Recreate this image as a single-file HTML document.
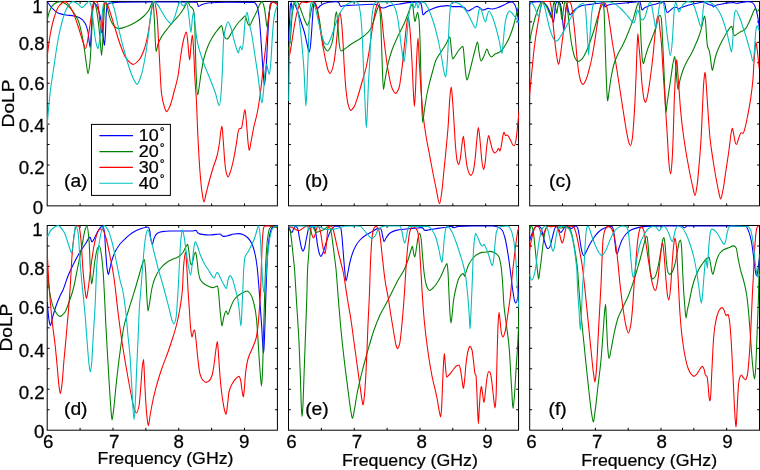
<!DOCTYPE html>
<html><head><meta charset="utf-8"><title>DoLP vs Frequency</title>
<style>
html,body{margin:0;padding:0;background:#fff;}
svg{display:block;}
text{font-family:"Liberation Sans",sans-serif;fill:#000;stroke:#000;stroke-width:0.25px;}
.ax{fill:none;stroke:#000;stroke-width:1;}
.tk{stroke:#000;stroke-width:1;fill:none;}
.cv{fill:none;stroke-width:1.08;stroke-linejoin:round;stroke-linecap:butt;}
</style></head><body>
<svg width="760" height="470" viewBox="0 0 760 470">
<rect width="760" height="470" fill="#fff"/>
<defs>
<clipPath id="cpa"><rect x="46.7" y="0.85" width="231.2" height="205.6"/></clipPath>
<clipPath id="cpb"><rect x="288" y="0.85" width="231.05" height="205.6"/></clipPath>
<clipPath id="cpc"><rect x="529.2" y="0.85" width="230.8" height="205.6"/></clipPath>
<clipPath id="cpd"><rect x="46.7" y="224.9" width="231.2" height="205.9"/></clipPath>
<clipPath id="cpe"><rect x="288" y="224.9" width="231.05" height="205.9"/></clipPath>
<clipPath id="cpf"><rect x="529.2" y="224.9" width="230.8" height="205.9"/></clipPath>
</defs>
<g id="panel-a">
<rect class="ax" x="47.2" y="1.45" width="230.2" height="204.4"/>
<path class="tk" d="M80.09 205.85v-2.4M80.09 1.45v2.4M112.97 205.85v-2.4M112.97 1.45v2.4M145.86 205.85v-2.4M145.86 1.45v2.4M178.74 205.85v-2.4M178.74 1.45v2.4M211.63 205.85v-2.4M211.63 1.45v2.4M244.51 205.85v-2.4M244.51 1.45v2.4M47.2 21.89h2.4M277.4 21.89h-2.4M47.2 42.33h2.4M277.4 42.33h-2.4M47.2 62.77h2.4M277.4 62.77h-2.4M47.2 83.21h2.4M277.4 83.21h-2.4M47.2 103.65h2.4M277.4 103.65h-2.4M47.2 124.09h2.4M277.4 124.09h-2.4M47.2 144.53h2.4M277.4 144.53h-2.4M47.2 164.97h2.4M277.4 164.97h-2.4M47.2 185.41h2.4M277.4 185.41h-2.4"/>
<g clip-path="url(#cpa)">
<path class="cv" stroke="#0000ff" d="M47.2 1.5C48.8 4.0 50.4 6.3 52.0 8.0C54.0 10.1 56.0 12.2 58.0 13.0C60.7 14.1 63.3 14.6 66.0 15.0C68.7 15.4 71.3 15.5 74.0 16.0C76.0 16.4 78.0 17.0 80.0 18.0C81.7 18.8 83.3 20.4 85.0 23.0C86.0 24.6 87.0 27.7 88.0 32.0C88.7 35.2 89.5 47.5 90.2 47.5C90.6 47.5 91.1 34.3 91.5 28.0C92.0 20.8 92.5 9.0 93.0 7.0C93.5 5.0 94.0 3.5 94.5 3.5C94.8 3.5 95.2 3.8 95.5 4.0C96.8 4.9 98.0 8.7 99.3 12.8C100.2 15.6 101.0 20.0 101.9 25.5C102.5 29.5 103.2 37.7 103.8 42.0C104.0 43.3 104.2 45.5 104.4 45.5C104.8 45.5 105.1 38.1 105.5 32.0C105.8 27.6 106.0 15.6 106.3 12.8C106.7 8.2 107.2 4.9 107.6 4.5C109.1 3.2 110.5 3.0 112.0 2.8C114.7 2.4 117.3 2.2 120.0 2.2C130.0 2.1 140.0 2.0 150.0 2.0C165.7 2.0 181.3 2.0 197.0 2.2C197.5 2.2 197.9 6.4 198.4 6.4C199.6 6.4 200.8 4.8 202.0 4.4C204.7 3.6 207.3 3.0 210.0 2.8C215.0 2.4 220.0 2.2 225.0 2.2C234.7 2.2 244.3 2.2 254.0 2.4C255.0 2.4 256.0 4.0 257.0 6.0C257.7 7.3 258.3 11.3 259.0 16.0C259.7 20.7 260.3 31.1 261.0 40.0C261.7 48.9 262.3 61.7 263.0 70.0C263.5 75.8 263.9 85.0 264.4 85.0C264.9 85.0 265.5 76.7 266.0 70.0C266.5 63.3 267.1 49.5 267.6 40.0C268.1 31.7 268.5 21.3 269.0 16.0C269.5 10.7 269.9 4.9 270.4 4.0C270.9 2.9 271.5 2.2 272.0 2.2C273.9 2.2 275.7 2.2 277.6 2.2"/>
<path class="cv" stroke="#008000" d="M47.2 20.0C48.1 15.9 49.1 12.0 50.0 10.0C51.3 7.1 52.7 4.9 54.0 4.0C56.0 2.7 58.0 1.6 60.0 1.6C61.7 1.6 63.3 2.6 65.0 3.5C66.7 4.4 68.3 6.2 70.0 8.0C72.7 10.9 75.3 14.0 78.0 20.0C79.7 23.8 81.3 31.3 83.0 40.0C84.1 45.9 85.3 56.7 86.4 64.0C86.9 67.4 87.5 73.6 88.0 73.6C88.7 73.6 89.3 67.9 90.0 62.0C90.6 57.0 91.1 42.7 91.7 32.0C92.1 24.4 92.5 10.6 92.9 7.7C93.3 4.5 93.8 2.0 94.2 2.0C94.8 2.0 95.5 5.1 96.1 7.7C96.7 10.3 97.4 15.2 98.0 20.0C98.7 25.0 99.3 31.4 100.0 38.0C100.5 43.3 101.1 55.5 101.6 55.5C102.0 55.5 102.5 45.2 102.9 38.0C103.2 33.0 103.5 24.4 103.8 19.0C104.1 13.6 104.4 6.8 104.7 5.0C105.0 3.4 105.2 2.0 105.5 2.0C106.2 2.0 106.9 6.5 107.6 9.0C108.2 11.3 108.9 14.6 109.5 16.6C110.3 19.2 111.2 21.5 112.0 23.0C113.0 24.8 114.0 26.4 115.0 27.0C116.3 27.8 117.7 28.6 119.0 28.6C122.0 28.6 125.0 27.1 128.0 26.0C130.7 25.0 133.3 23.6 136.0 22.0C138.7 20.4 141.3 18.5 144.0 16.0C145.7 14.4 147.3 12.7 149.0 10.0C150.0 8.4 151.0 4.7 152.0 3.0C152.3 2.4 152.7 1.6 153.0 1.6C153.5 1.6 153.9 12.7 154.4 20.0C154.9 28.4 155.5 51.6 156.0 51.6C156.7 51.6 157.3 45.8 158.0 44.0C159.3 40.4 160.7 38.2 162.0 36.0C164.0 32.8 166.0 30.5 168.0 28.0C170.0 25.5 172.0 23.3 174.0 21.0C176.0 18.7 178.0 16.6 180.0 14.0C181.3 12.2 182.7 10.2 184.0 8.0C185.0 6.3 186.0 3.2 187.0 2.5C187.3 2.3 187.7 2.0 188.0 2.0C188.7 2.0 189.3 5.1 190.0 6.0C191.0 7.4 192.0 7.2 193.0 9.0C193.5 9.8 193.9 11.7 194.4 16.0C194.7 18.4 194.9 31.1 195.2 40.0C195.5 48.9 195.7 63.8 196.0 70.0C196.5 82.3 197.1 95.0 197.6 95.0C198.1 95.0 198.5 90.7 199.0 88.0C199.7 84.1 200.3 78.1 201.0 74.0C202.0 67.9 203.0 61.9 204.0 58.0C205.3 52.8 206.7 49.2 208.0 46.0C209.3 42.8 210.7 40.3 212.0 38.0C213.3 35.7 214.7 33.8 216.0 32.0C217.3 30.2 218.7 28.3 220.0 27.0C220.5 26.5 221.1 25.6 221.6 25.6C222.4 25.6 223.2 34.7 224.0 36.0C225.0 37.7 226.0 39.0 227.0 39.0C228.7 39.0 230.3 34.4 232.0 32.0C234.0 29.1 236.0 25.4 238.0 23.0C239.7 21.0 241.3 19.7 243.0 18.0C243.7 17.3 244.3 16.0 245.0 16.0C246.0 16.0 247.0 22.5 248.0 24.0C248.5 24.7 248.9 25.6 249.4 25.6C250.6 25.6 251.8 21.3 253.0 19.0C254.3 16.5 255.7 13.9 257.0 11.0C258.0 8.8 259.0 5.6 260.0 4.0C260.7 3.0 261.3 1.6 262.0 1.6C262.8 1.6 263.6 4.7 264.4 8.0C264.9 10.2 265.5 16.1 266.0 20.0C266.3 22.4 266.7 27.0 267.0 27.0C267.5 27.0 267.9 21.0 268.4 18.0C268.9 14.6 269.5 10.1 270.0 8.0C270.7 5.4 271.3 2.5 272.0 2.4C273.9 2.1 275.7 2.0 277.6 2.0"/>
<path class="cv" stroke="#ff0000" d="M47.2 57.0C48.1 48.8 49.1 41.3 50.0 36.0C51.3 28.4 52.7 22.2 54.0 18.0C55.7 12.7 57.3 7.9 59.0 6.0C61.0 3.7 63.0 1.6 65.0 1.6C67.3 1.6 69.7 6.1 72.0 10.0C74.0 13.3 76.0 20.2 78.0 26.0C79.7 30.9 81.3 37.3 83.0 42.0C83.8 44.4 84.7 48.5 85.5 48.5C86.7 48.5 87.8 38.7 89.0 32.0C89.9 26.9 90.8 18.3 91.7 12.8C92.3 8.9 93.0 3.1 93.6 2.5C94.2 1.9 94.9 1.5 95.5 1.5C96.1 1.5 96.8 1.9 97.4 2.5C97.8 2.9 98.3 6.8 98.7 10.0C99.1 13.2 99.6 19.4 100.0 23.0C100.5 26.9 100.9 33.0 101.4 33.0C101.8 33.0 102.1 28.9 102.5 25.0C102.7 22.5 103.0 15.5 103.2 12.8C103.6 8.2 104.0 3.6 104.4 3.0C104.8 2.4 105.1 2.0 105.5 2.0C106.2 2.0 106.9 3.7 107.6 5.0C108.4 6.5 109.2 9.6 110.0 12.0C111.7 17.1 113.3 22.7 115.0 28.0C116.7 33.3 118.3 39.5 120.0 44.0C122.0 49.4 124.0 55.3 126.0 58.0C128.3 61.1 130.7 64.4 133.0 64.4C135.0 64.4 137.0 62.2 139.0 60.0C140.7 58.2 142.3 54.5 144.0 50.0C145.3 46.4 146.7 40.7 148.0 34.0C149.0 28.9 150.0 20.0 151.0 14.0C151.7 10.0 152.3 4.1 153.0 3.0C153.5 2.2 153.9 1.6 154.4 1.6C155.3 1.6 156.1 8.6 157.0 16.0C157.7 21.7 158.3 38.7 159.0 50.0C159.9 64.7 160.7 87.6 161.6 94.0C162.5 100.8 163.5 104.2 164.4 107.0C165.1 109.0 165.7 111.6 166.4 111.6C167.6 111.6 168.8 108.6 170.0 106.0C171.3 103.1 172.7 97.0 174.0 92.0C175.3 87.0 176.7 83.0 178.0 76.0C179.0 70.8 180.0 60.2 181.0 54.0C182.0 47.8 183.0 41.4 184.0 38.0C184.8 35.3 185.6 32.0 186.4 32.0C186.9 32.0 187.5 39.4 188.0 44.0C188.5 48.6 189.1 60.0 189.6 60.0C190.1 60.0 190.5 50.1 191.0 46.0C191.5 41.9 191.9 35.0 192.4 35.0C192.8 35.0 193.2 43.7 193.6 50.0C194.1 57.3 194.5 72.0 195.0 80.0C195.5 88.0 195.9 91.5 196.4 100.0C196.8 107.3 197.2 121.6 197.6 130.0C198.4 146.8 199.2 161.9 200.0 172.0C200.7 180.4 201.3 187.6 202.0 192.0C202.7 196.4 203.3 202.0 204.0 202.0C204.7 202.0 205.3 196.7 206.0 194.0C207.0 190.0 208.0 185.7 209.0 182.0C210.3 177.0 211.7 172.3 213.0 168.0C214.3 163.7 215.7 161.2 217.0 156.0C217.9 152.6 218.7 147.9 219.6 142.0C220.1 138.8 220.5 132.3 221.0 130.0C221.3 128.3 221.7 126.4 222.0 126.4C222.4 126.4 222.8 135.1 223.2 140.0C223.8 147.3 224.4 158.9 225.0 164.0C225.5 168.5 226.1 172.3 226.6 174.0C227.1 175.5 227.5 177.0 228.0 177.0C228.7 177.0 229.3 174.7 230.0 173.0C231.0 170.5 232.0 166.3 233.0 162.0C234.0 157.7 235.0 151.5 236.0 146.0C237.0 140.5 238.0 129.7 239.0 129.0C239.8 128.4 240.7 128.7 241.5 128.0C242.0 127.6 242.5 122.6 243.0 120.0C243.7 116.5 244.3 109.6 245.0 109.6C245.5 109.6 245.9 117.2 246.4 122.0C246.9 127.5 247.5 137.3 248.0 142.0C248.4 145.5 248.8 150.4 249.2 150.4C249.8 150.4 250.4 145.0 251.0 142.0C252.0 137.0 253.0 130.6 254.0 126.0C255.0 121.4 256.0 118.8 257.0 114.0C258.0 109.2 259.0 103.1 260.0 96.0C261.0 88.9 262.0 78.7 263.0 70.0C264.0 61.3 265.0 53.3 266.0 44.0C266.7 37.8 267.3 29.9 268.0 24.0C268.7 18.1 269.3 11.4 270.0 8.0C270.5 5.3 271.1 2.0 271.6 2.0C272.7 2.0 273.9 2.5 275.0 3.0C275.9 3.4 276.7 4.2 277.6 5.0"/>
<path class="cv" stroke="#00bfbf" d="M47.2 125.0C48.1 113.1 49.1 102.1 50.0 94.0C51.3 82.4 52.7 75.0 54.0 66.0C55.3 57.0 56.7 47.1 58.0 40.0C59.3 32.9 60.7 26.8 62.0 22.0C63.3 17.2 64.7 12.8 66.0 10.0C67.3 7.2 68.7 4.8 70.0 3.6C71.0 2.7 72.0 1.6 73.0 1.6C74.7 1.6 76.3 2.9 78.0 4.0C79.3 4.8 80.7 7.6 82.0 7.6C83.3 7.6 84.7 5.2 86.0 4.0C87.0 3.1 88.0 1.5 89.0 1.5C89.7 1.5 90.3 3.1 91.0 5.0C91.7 6.9 92.3 13.8 93.0 19.0C93.6 24.0 94.3 31.8 94.9 36.0C95.5 40.2 96.2 44.0 96.8 46.0C97.2 47.3 97.6 48.8 98.0 48.8C98.4 48.8 98.9 44.8 99.3 42.0C99.9 37.9 100.6 31.5 101.2 25.5C101.8 20.1 102.3 11.1 102.9 7.7C103.3 5.1 103.8 2.1 104.2 2.0C105.5 1.8 106.7 1.8 108.0 1.8C109.2 1.8 110.3 2.1 111.5 2.5C112.3 2.8 113.2 5.6 114.0 8.0C115.3 11.8 116.7 20.3 118.0 26.0C120.0 34.5 122.0 42.7 124.0 50.0C126.0 57.3 128.0 64.3 130.0 70.0C131.3 73.8 132.7 77.6 134.0 80.0C135.0 81.8 136.0 84.4 137.0 84.4C138.3 84.4 139.7 79.8 141.0 76.0C142.3 72.2 143.7 65.3 145.0 58.0C146.3 50.7 147.7 40.3 149.0 30.0C149.9 23.3 150.7 11.9 151.6 8.0C152.3 5.0 152.9 1.6 153.6 1.6C154.7 1.6 155.9 2.9 157.0 4.0C158.7 5.6 160.3 9.3 162.0 12.0C163.7 14.7 165.3 18.1 167.0 20.0C168.3 21.5 169.7 23.6 171.0 23.6C172.3 23.6 173.7 19.3 175.0 16.0C176.0 13.5 177.0 8.6 178.0 6.0C178.7 4.3 179.3 1.6 180.0 1.6C180.8 1.6 181.6 4.3 182.4 5.0C182.9 5.5 183.5 6.0 184.0 6.0C184.8 6.0 185.6 2.0 186.4 2.0C187.1 2.0 187.7 7.7 188.4 12.0C188.9 15.4 189.5 22.1 190.0 26.0C190.3 28.4 190.7 32.4 191.0 32.4C191.5 32.4 191.9 21.0 192.4 18.0C192.8 15.5 193.2 12.4 193.6 12.4C194.1 12.4 194.5 20.2 195.0 24.0C195.7 29.4 196.3 36.4 197.0 40.0C198.0 45.5 199.0 48.5 200.0 52.0C201.3 56.6 202.7 60.4 204.0 64.0C205.3 67.6 206.7 70.7 208.0 74.0C209.3 77.3 210.7 80.5 212.0 84.0C213.3 87.5 214.7 90.6 216.0 95.0C216.7 97.2 217.3 101.3 218.0 103.0C218.5 104.2 218.9 105.6 219.4 105.6C219.9 105.6 220.5 99.5 221.0 94.0C221.5 89.2 221.9 79.5 222.4 70.0C222.8 61.8 223.2 44.1 223.6 40.0C224.3 33.2 224.9 30.4 225.6 28.0C226.4 25.1 227.2 22.0 228.0 22.0C229.0 22.0 230.0 25.3 231.0 28.0C232.0 30.7 233.0 36.4 234.0 40.0C235.0 43.6 236.0 47.5 237.0 50.0C237.5 51.2 237.9 53.0 238.4 53.0C238.8 53.0 239.2 48.9 239.6 48.0C239.9 47.2 240.3 46.4 240.6 46.4C241.1 46.4 241.5 50.0 242.0 50.0C242.5 50.0 243.1 44.5 243.6 40.0C244.1 36.0 244.5 25.4 245.0 22.0C245.7 17.2 246.3 12.4 247.0 12.4C247.7 12.4 248.3 18.8 249.0 22.0C250.0 26.7 251.0 30.5 252.0 36.0C253.0 41.5 254.0 49.3 255.0 56.0C256.0 62.7 257.0 68.7 258.0 76.0C258.7 80.9 259.3 87.7 260.0 92.0C260.7 96.3 261.3 103.0 262.0 103.0C262.5 103.0 263.1 95.3 263.6 90.0C264.1 85.3 264.5 75.3 265.0 72.0C265.5 68.3 266.1 64.4 266.6 64.4C267.1 64.4 267.5 68.4 268.0 70.0C268.5 71.6 268.9 74.4 269.4 74.4C269.9 74.4 270.5 66.3 271.0 60.0C271.5 54.5 271.9 42.4 272.4 36.0C272.9 28.7 273.5 21.5 274.0 18.0C274.7 13.6 275.3 10.7 276.0 9.0C276.5 7.6 277.1 6.4 277.6 6.0"/>
</g>
</g>
<g id="panel-b">
<rect class="ax" x="288.5" y="1.45" width="230.05" height="204.4"/>
<path class="tk" d="M321.36 205.85v-2.4M321.36 1.45v2.4M354.23 205.85v-2.4M354.23 1.45v2.4M387.09 205.85v-2.4M387.09 1.45v2.4M419.96 205.85v-2.4M419.96 1.45v2.4M452.82 205.85v-2.4M452.82 1.45v2.4M485.69 205.85v-2.4M485.69 1.45v2.4M288.5 21.89h2.4M518.55 21.89h-2.4M288.5 42.33h2.4M518.55 42.33h-2.4M288.5 62.77h2.4M518.55 62.77h-2.4M288.5 83.21h2.4M518.55 83.21h-2.4M288.5 103.65h2.4M518.55 103.65h-2.4M288.5 124.09h2.4M518.55 124.09h-2.4M288.5 144.53h2.4M518.55 144.53h-2.4M288.5 164.97h2.4M518.55 164.97h-2.4M288.5 185.41h2.4M518.55 185.41h-2.4"/>
<g clip-path="url(#cpb)">
<path class="cv" stroke="#0000ff" d="M288.7 41.0C289.0 33.3 289.3 26.2 289.6 20.0C289.9 14.5 290.1 6.4 290.4 5.0C290.7 3.6 290.9 2.5 291.2 2.5C291.4 2.5 291.7 6.4 291.9 8.0C292.1 9.3 292.3 11.5 292.5 11.5C292.7 11.5 292.9 8.3 293.1 7.0C293.3 5.4 293.6 2.8 293.8 2.8C294.4 2.8 295.1 5.0 295.7 6.4C296.5 8.2 297.4 10.4 298.2 12.8C299.3 15.8 300.3 19.6 301.4 23.0C302.5 26.4 303.5 29.0 304.6 33.0C305.5 36.2 306.3 41.2 307.2 44.7C307.9 47.4 308.5 52.0 309.2 52.0C309.6 52.0 309.9 49.4 310.3 47.0C310.7 44.2 311.2 37.6 311.6 32.0C312.0 26.4 312.5 17.8 312.9 12.8C313.2 9.3 313.5 4.3 313.8 4.0C314.1 3.7 314.3 3.5 314.6 3.5C315.1 3.5 315.5 5.7 316.0 6.5C316.5 7.3 316.9 8.5 317.4 8.5C318.3 8.5 319.1 6.7 320.0 6.0C321.3 5.0 322.7 4.0 324.0 3.5C325.7 2.9 327.3 2.4 329.0 2.2C331.3 2.0 333.7 1.8 336.0 1.8C336.8 1.8 337.7 1.9 338.5 2.2C339.0 2.4 339.5 4.8 340.0 5.5C340.3 5.9 340.7 6.5 341.0 6.5C341.7 6.5 342.3 5.9 343.0 5.8C344.7 5.6 346.3 5.5 348.0 5.4C352.7 5.1 357.3 5.0 362.0 4.8C366.0 4.6 370.0 4.2 374.0 4.2C375.3 4.2 376.7 4.5 378.0 5.0C378.7 5.2 379.3 6.7 380.0 7.0C381.0 7.5 382.0 8.0 383.0 8.0C385.3 8.0 387.7 6.1 390.0 5.6C394.0 4.7 398.0 4.2 402.0 3.6C404.7 3.2 407.3 2.6 410.0 2.4C412.7 2.2 415.3 2.0 418.0 2.0C418.8 2.0 419.7 2.1 420.5 2.5C420.9 2.7 421.2 4.5 421.6 6.0C422.1 8.0 422.5 15.0 423.0 15.0C424.0 15.0 425.0 12.7 426.0 12.0C428.0 10.6 430.0 9.8 432.0 9.0C434.7 7.9 437.3 6.8 440.0 6.4C442.7 6.0 445.3 5.6 448.0 5.6C449.3 5.6 450.7 6.6 452.0 6.6C454.7 6.6 457.3 6.6 460.0 6.6C461.3 6.6 462.7 7.1 464.0 7.6C465.3 8.1 466.7 11.0 468.0 11.0C469.3 11.0 470.7 9.7 472.0 9.0C473.7 8.2 475.3 6.4 477.0 6.4C478.0 6.4 479.0 7.4 480.0 8.0C481.0 8.6 482.0 10.0 483.0 10.0C484.7 10.0 486.3 8.4 488.0 8.4C489.3 8.4 490.7 9.0 492.0 9.0C494.0 9.0 496.0 8.2 498.0 7.6C500.0 7.0 502.0 5.9 504.0 5.0C505.7 4.2 507.3 2.7 509.0 2.4C510.0 2.2 511.0 2.0 512.0 2.0C513.0 2.0 514.0 3.4 515.0 5.0C515.7 6.1 516.3 9.0 517.0 12.0C517.7 15.3 518.5 20.2 519.2 26.0"/>
<path class="cv" stroke="#008000" d="M288.7 50.0C289.0 48.0 289.3 46.0 289.6 44.0C289.9 42.0 290.2 40.7 290.5 38.0C290.9 34.1 291.4 23.7 291.8 19.0C292.2 14.3 292.7 9.6 293.1 7.7C293.7 5.0 294.4 3.0 295.0 2.5C295.7 1.9 296.3 1.5 297.0 1.5C298.0 1.5 299.1 5.3 300.1 7.7C301.2 10.2 302.2 13.8 303.3 16.6C304.2 18.9 305.0 21.3 305.9 23.0C306.4 24.0 306.9 25.5 307.4 25.5C308.0 25.5 308.5 23.5 309.1 21.7C309.7 19.7 310.4 14.4 311.0 11.5C311.6 8.6 312.3 5.1 312.9 3.8C313.3 2.9 313.8 2.0 314.2 2.0C315.0 2.0 315.9 4.3 316.7 6.4C317.6 8.6 318.4 14.1 319.3 19.0C320.1 23.7 321.0 31.4 321.8 35.8C322.7 40.4 323.5 45.3 324.4 47.0C325.5 49.1 326.5 51.0 327.6 51.0C328.4 51.0 329.2 49.4 330.0 48.0C330.8 46.6 331.7 44.5 332.5 41.0C333.2 38.2 333.8 31.0 334.5 25.0C334.8 22.0 335.2 16.6 335.5 15.0C335.8 13.4 336.2 11.8 336.5 11.8C336.8 11.8 337.2 16.5 337.5 20.0C337.8 23.5 338.2 30.8 338.5 35.0C338.8 39.2 339.2 44.2 339.5 46.0C340.0 48.7 340.5 51.0 341.0 51.0C342.0 51.0 343.0 50.1 344.0 49.5C346.0 48.3 348.0 46.4 350.0 45.0C352.7 43.2 355.3 41.7 358.0 40.0C360.0 38.7 362.0 37.6 364.0 36.0C366.0 34.4 368.0 32.9 370.0 30.0C371.3 28.0 372.7 23.8 374.0 20.0C375.0 17.1 376.0 12.5 377.0 10.0C377.7 8.4 378.3 6.0 379.0 6.0C379.5 6.0 379.9 10.7 380.4 16.0C380.7 19.8 381.1 31.1 381.4 40.0C381.7 48.9 382.1 62.1 382.4 70.0C382.7 77.9 383.1 89.5 383.4 89.5C383.9 89.5 384.5 83.0 385.0 80.0C386.0 74.4 387.0 68.3 388.0 64.0C389.3 58.3 390.7 53.8 392.0 50.0C394.0 44.3 396.0 40.3 398.0 36.0C400.0 31.7 402.0 28.5 404.0 24.0C405.3 21.0 406.7 17.4 408.0 14.0C409.0 11.4 410.0 7.5 411.0 6.0C411.5 5.3 411.9 4.4 412.4 4.4C412.9 4.4 413.5 12.7 414.0 16.0C414.3 18.1 414.7 21.6 415.0 21.6C415.5 21.6 415.9 17.6 416.4 16.0C416.8 14.6 417.2 12.4 417.6 12.4C418.1 12.4 418.5 15.9 419.0 20.0C419.3 22.9 419.7 31.2 420.0 40.0C420.3 47.0 420.5 60.0 420.8 70.0C421.1 80.0 421.3 92.5 421.6 100.0C421.9 109.4 422.3 122.4 422.6 122.4C423.2 122.4 423.8 113.9 424.4 110.0C425.3 104.3 426.1 98.4 427.0 94.0C428.0 88.9 429.0 85.0 430.0 81.0C431.0 77.0 432.0 73.5 433.0 70.0C434.0 66.5 435.0 62.2 436.0 60.0C437.7 56.3 439.3 54.7 441.0 52.0C442.7 49.3 444.3 47.0 446.0 44.0C447.0 42.2 448.0 39.3 449.0 38.0C449.3 37.6 449.7 37.0 450.0 37.0C450.3 37.0 450.7 43.1 451.0 46.0C451.5 50.6 452.1 59.0 452.6 59.0C453.4 59.0 454.2 57.1 455.0 56.0C456.3 54.2 457.7 51.5 459.0 50.0C460.3 48.5 461.7 46.4 463.0 46.4C463.5 46.4 463.9 55.4 464.4 60.0C464.9 65.3 465.5 73.0 466.0 76.0C466.3 77.8 466.7 80.0 467.0 80.0C467.7 80.0 468.3 76.3 469.0 74.0C470.0 70.6 471.0 66.0 472.0 62.0C473.0 58.0 474.0 53.5 475.0 50.0C475.9 47.0 476.7 42.0 477.6 42.0C478.1 42.0 478.5 49.4 479.0 52.0C479.7 55.7 480.3 61.0 481.0 61.0C482.0 61.0 483.0 57.9 484.0 56.0C485.0 54.1 486.0 49.0 487.0 49.0C487.7 49.0 488.3 52.9 489.0 54.0C489.9 55.4 490.7 57.0 491.6 57.0C492.7 57.0 493.9 54.6 495.0 54.0C496.3 53.3 497.7 53.1 499.0 52.4C500.0 51.9 501.0 51.0 502.0 50.0C503.3 48.6 504.7 46.3 506.0 44.0C507.3 41.7 508.7 39.2 510.0 36.0C511.3 32.8 512.7 28.6 514.0 24.0C515.0 20.5 516.0 15.8 517.0 12.0C517.7 9.2 518.5 6.6 519.2 4.0"/>
<path class="cv" stroke="#ff0000" d="M288.7 57.0C288.9 56.8 289.1 56.5 289.3 56.0C290.1 54.1 291.0 47.0 291.8 42.0C292.7 36.8 293.5 30.4 294.4 25.5C295.2 20.8 296.1 15.9 296.9 12.8C297.8 9.5 298.6 6.5 299.5 5.0C300.3 3.6 301.2 2.0 302.0 2.0C303.5 2.0 305.0 2.6 306.5 2.6C308.0 2.6 309.5 1.5 311.0 1.5C312.3 1.5 313.5 1.8 314.8 2.5C315.4 2.8 316.1 5.4 316.7 7.7C317.4 10.2 318.0 14.9 318.7 19.0C319.5 24.1 320.4 30.6 321.2 35.8C322.1 41.2 322.9 46.3 323.8 51.0C324.5 54.9 325.3 58.7 326.0 62.0C326.7 65.0 327.3 68.3 328.0 70.0C328.7 71.7 329.3 73.6 330.0 73.6C330.7 73.6 331.3 71.7 332.0 70.0C332.7 68.3 333.3 65.5 334.0 62.0C334.7 58.5 335.3 53.1 336.0 47.0C336.5 42.4 337.0 35.1 337.5 30.0C338.0 24.9 338.5 18.2 339.0 16.0C339.3 14.5 339.7 13.0 340.0 13.0C340.5 13.0 341.0 17.9 341.5 22.0C342.0 26.1 342.5 33.9 343.0 42.0C343.3 47.4 343.7 56.4 344.0 62.0C344.7 73.2 345.3 83.8 346.0 90.0C346.7 96.2 347.3 101.5 348.0 104.0C348.9 107.2 349.7 110.4 350.6 110.4C351.7 110.4 352.9 108.6 354.0 107.0C355.3 105.1 356.7 100.1 358.0 96.0C359.3 91.9 360.7 86.7 362.0 82.0C363.3 77.3 364.7 73.7 366.0 68.0C367.0 63.7 368.0 58.0 369.0 52.0C370.3 44.0 371.7 32.0 373.0 24.0C374.0 18.0 375.0 11.6 376.0 8.0C376.7 5.4 377.5 2.0 378.2 2.0C379.1 2.0 380.1 7.2 381.0 12.0C382.0 17.1 383.0 31.6 384.0 40.0C385.3 51.1 386.7 62.5 388.0 70.0C389.3 77.5 390.7 85.0 392.0 88.0C393.2 90.7 394.3 93.4 395.5 93.4C396.7 93.4 397.8 91.0 399.0 88.0C400.0 85.5 401.0 75.8 402.0 68.0C403.0 60.2 404.0 49.2 405.0 40.0C405.7 33.9 406.3 25.3 407.0 22.0C407.5 19.7 407.9 17.0 408.4 17.0C408.9 17.0 409.5 24.3 410.0 30.0C410.7 37.1 411.3 49.7 412.0 62.0C412.5 70.6 412.9 84.0 413.4 92.0C413.7 97.7 414.1 106.4 414.4 106.4C414.7 106.4 415.1 98.2 415.4 92.0C415.8 84.6 416.2 68.0 416.6 60.0C417.1 50.7 417.5 38.0 418.0 38.0C418.5 38.0 418.9 55.9 419.4 64.0C419.9 73.3 420.5 82.6 421.0 90.0C421.7 99.3 422.3 107.8 423.0 114.0C424.0 123.3 425.0 129.8 426.0 136.0C427.0 142.2 428.0 146.7 429.0 152.0C430.0 157.3 431.0 162.8 432.0 168.0C433.3 174.9 434.7 181.8 436.0 188.0C437.2 193.6 438.4 203.6 439.6 203.6C440.4 203.6 441.2 195.8 442.0 190.0C442.7 185.1 443.3 176.7 444.0 170.0C444.7 163.3 445.3 157.0 446.0 150.0C446.7 143.0 447.3 136.7 448.0 128.0C448.7 119.3 449.3 102.6 450.0 96.0C450.4 92.0 450.8 87.0 451.2 87.0C451.6 87.0 452.0 93.5 452.4 98.0C452.9 104.0 453.5 113.7 454.0 122.0C454.5 129.7 455.0 140.1 455.5 146.0C456.0 151.9 456.5 157.9 457.0 160.0C457.5 162.3 458.1 164.4 458.6 164.4C459.2 164.4 459.8 161.1 460.4 158.0C460.9 155.3 461.5 147.6 462.0 144.0C462.5 140.9 462.9 136.4 463.4 136.4C463.9 136.4 464.5 145.6 465.0 150.0C465.7 155.5 466.3 162.8 467.0 166.0C467.7 169.2 468.3 171.8 469.0 173.0C469.7 174.2 470.3 175.4 471.0 175.4C471.7 175.4 472.3 173.8 473.0 172.0C473.7 170.2 474.3 165.2 475.0 160.0C475.7 154.8 476.3 143.8 477.0 138.0C477.5 133.9 477.9 127.6 478.4 127.6C478.9 127.6 479.5 135.2 480.0 140.0C480.7 146.0 481.3 157.6 482.0 162.0C482.5 165.5 483.1 169.6 483.6 169.6C484.1 169.6 484.5 166.6 485.0 164.0C485.7 160.3 486.3 148.5 487.0 144.0C487.5 140.4 488.1 135.6 488.6 135.6C489.2 135.6 489.8 139.9 490.4 142.0C491.3 145.0 492.1 149.7 493.0 151.0C493.7 152.0 494.3 153.0 495.0 153.0C495.7 153.0 496.3 151.8 497.0 151.0C497.5 150.3 498.1 148.4 498.6 148.4C499.1 148.4 499.5 151.0 500.0 151.0C500.5 151.0 501.1 146.8 501.6 144.0C502.1 141.6 502.5 136.7 503.0 135.0C503.3 133.8 503.7 132.4 504.0 132.4C504.5 132.4 505.1 135.6 505.6 135.6C506.1 135.6 506.7 135.0 507.2 135.0C508.1 135.0 509.1 137.4 510.0 139.0C511.0 140.7 512.0 144.3 513.0 145.0C513.5 145.3 513.9 145.6 514.4 145.6C514.9 145.6 515.5 142.7 516.0 140.0C516.5 137.3 517.1 131.0 517.6 126.0C518.1 121.0 518.7 115.7 519.2 110.0"/>
<path class="cv" stroke="#00bfbf" d="M288.7 101.0C288.9 79.5 289.2 58.4 289.4 50.0C289.8 36.8 290.1 29.7 290.5 25.0C291.0 18.6 291.5 15.3 292.0 12.0C292.5 8.7 293.0 5.1 293.5 4.0C294.0 2.9 294.5 2.0 295.0 2.0C295.9 2.0 296.7 6.3 297.6 10.0C298.4 13.5 299.3 20.2 300.1 27.0C300.9 33.2 301.6 41.4 302.4 50.0C302.9 56.0 303.5 61.3 304.0 70.0C304.3 75.4 304.7 85.9 305.0 92.0C305.3 97.5 305.6 106.0 305.9 106.0C306.2 106.0 306.5 98.0 306.8 92.0C307.1 86.7 307.3 77.3 307.6 70.0C307.9 62.7 308.1 55.9 308.4 48.0C308.6 41.1 308.9 30.8 309.1 25.5C309.4 18.7 309.7 12.9 310.0 10.0C310.3 6.7 310.7 3.8 311.0 3.2C311.4 2.5 311.9 2.0 312.3 2.0C313.1 2.0 314.0 4.4 314.8 6.4C315.7 8.5 316.5 12.9 317.4 16.6C318.2 20.1 319.1 24.5 319.9 28.0C320.8 31.6 321.6 35.6 322.5 38.0C323.3 40.3 324.2 42.7 325.0 43.4C325.8 44.1 326.5 44.7 327.3 44.7C328.2 44.7 329.1 41.9 330.0 40.0C331.0 37.9 332.0 34.8 333.0 32.0C334.0 29.2 335.0 25.7 336.0 23.0C337.3 19.3 338.7 15.5 340.0 13.0C341.3 10.5 342.7 8.5 344.0 7.0C345.3 5.5 346.7 4.2 348.0 3.5C349.3 2.8 350.7 2.1 352.0 2.0C353.3 1.9 354.7 1.8 356.0 1.8C356.8 1.8 357.7 2.7 358.5 4.0C359.2 5.0 359.8 9.2 360.5 14.0C361.0 17.6 361.5 24.1 362.0 32.0C362.5 40.5 363.1 57.9 363.6 70.0C363.9 77.6 364.3 84.3 364.6 92.0C364.9 99.7 365.3 110.0 365.6 116.0C365.9 120.8 366.1 127.6 366.4 127.6C366.7 127.6 367.1 117.0 367.4 110.0C367.7 103.0 368.1 90.8 368.4 84.0C368.8 75.8 369.2 71.9 369.6 64.0C370.1 54.8 370.5 37.5 371.0 30.0C371.5 21.9 372.0 15.4 372.5 12.0C373.0 8.6 373.5 6.2 374.0 5.0C374.7 3.4 375.3 2.0 376.0 2.0C380.7 2.0 385.3 2.0 390.0 2.0C391.7 2.0 393.3 4.8 395.0 8.0C396.0 9.9 397.0 14.7 398.0 20.0C399.0 25.3 400.0 36.6 401.0 44.0C401.7 49.0 402.3 54.7 403.0 58.0C403.3 59.6 403.7 62.0 404.0 62.0C404.5 62.0 405.1 54.7 405.6 50.0C406.4 43.0 407.2 31.3 408.0 24.0C408.7 17.9 409.3 10.9 410.0 8.0C410.7 5.1 411.3 2.0 412.0 2.0C412.8 2.0 413.6 8.0 414.4 8.0C415.1 8.0 415.7 2.4 416.4 2.4C416.9 2.4 417.5 8.0 418.0 8.0C418.7 8.0 419.3 2.0 420.0 2.0C421.3 2.0 422.7 2.2 424.0 2.4C425.3 2.6 426.7 5.6 428.0 8.0C430.0 11.6 432.0 17.6 434.0 24.0C435.7 29.4 437.3 36.3 439.0 44.0C440.0 48.6 441.0 54.3 442.0 60.0C442.7 63.8 443.3 69.3 444.0 72.0C444.5 74.2 445.1 77.0 445.6 77.0C446.1 77.0 446.5 71.2 447.0 66.0C447.5 60.8 447.9 49.0 448.4 40.0C448.8 32.3 449.2 20.8 449.6 16.0C450.1 10.3 450.5 4.9 451.0 4.0C451.7 2.7 452.3 2.0 453.0 2.0C454.7 2.0 456.3 2.5 458.0 3.0C459.3 3.4 460.7 4.7 462.0 6.0C464.0 7.9 466.0 10.8 468.0 14.0C469.3 16.2 470.7 19.6 472.0 22.0C473.2 24.2 474.4 28.0 475.6 28.0C476.2 28.0 476.8 23.1 477.4 20.0C477.9 17.2 478.5 11.6 479.0 10.0C479.3 9.0 479.7 8.0 480.0 8.0C480.7 8.0 481.3 10.3 482.0 12.0C482.7 13.7 483.3 17.4 484.0 19.0C484.5 20.3 485.1 22.0 485.6 22.0C486.1 22.0 486.5 17.5 487.0 16.0C487.7 13.9 488.3 11.0 489.0 11.0C490.0 11.0 491.0 13.9 492.0 16.0C493.3 18.8 494.7 23.4 496.0 28.0C497.0 31.5 498.0 35.5 499.0 40.0C499.7 43.0 500.3 47.3 501.0 50.0C501.3 51.4 501.7 53.6 502.0 53.6C502.5 53.6 502.9 44.6 503.4 40.0C503.9 34.7 504.5 27.4 505.0 24.0C505.7 19.8 506.3 16.6 507.0 15.0C507.9 13.0 508.7 11.0 509.6 11.0C510.4 11.0 511.2 12.2 512.0 13.0C513.0 14.0 514.0 15.7 515.0 17.0C516.0 18.3 517.0 19.6 518.0 21.0C518.5 21.6 518.9 22.3 519.4 23.0"/>
</g>
</g>
<g id="panel-c">
<rect class="ax" x="529.7" y="1.45" width="229.8" height="204.4"/>
<path class="tk" d="M562.53 205.85v-2.4M562.53 1.45v2.4M595.36 205.85v-2.4M595.36 1.45v2.4M628.19 205.85v-2.4M628.19 1.45v2.4M661.01 205.85v-2.4M661.01 1.45v2.4M693.84 205.85v-2.4M693.84 1.45v2.4M726.67 205.85v-2.4M726.67 1.45v2.4M529.7 21.89h2.4M759.5 21.89h-2.4M529.7 42.33h2.4M759.5 42.33h-2.4M529.7 62.77h2.4M759.5 62.77h-2.4M529.7 83.21h2.4M759.5 83.21h-2.4M529.7 103.65h2.4M759.5 103.65h-2.4M529.7 124.09h2.4M759.5 124.09h-2.4M529.7 144.53h2.4M759.5 144.53h-2.4M529.7 164.97h2.4M759.5 164.97h-2.4M529.7 185.41h2.4M759.5 185.41h-2.4"/>
<g clip-path="url(#cpc)">
<path class="cv" stroke="#0000ff" d="M529.5 5.0C530.0 4.0 530.5 2.6 531.0 2.5C533.0 2.0 535.0 1.8 537.0 1.8C538.7 1.8 540.3 1.9 542.0 2.0C543.7 2.1 545.3 4.0 547.0 6.0C547.8 7.0 548.7 9.1 549.5 11.0C550.3 12.9 551.2 15.6 552.0 18.0C552.5 19.5 553.0 22.5 553.5 22.5C553.8 22.5 554.2 17.9 554.5 15.0C554.8 12.1 555.2 6.2 555.5 5.0C556.0 3.3 556.5 2.0 557.0 2.0C558.0 2.0 559.0 2.3 560.0 3.0C560.5 3.3 561.0 6.9 561.5 10.0C561.9 12.7 562.4 18.3 562.8 22.0C563.1 24.8 563.5 30.0 563.8 30.0C564.1 30.0 564.5 25.2 564.8 22.0C565.1 18.8 565.5 13.1 565.8 10.0C566.0 7.8 566.3 4.5 566.5 4.5C566.7 4.5 567.0 4.7 567.2 5.0C567.6 5.5 568.1 9.5 568.5 11.0C569.0 12.7 569.5 15.0 570.0 15.0C571.0 15.0 572.0 12.5 573.0 11.5C574.3 10.2 575.7 8.8 577.0 8.0C578.3 7.2 579.7 6.4 581.0 6.0C583.0 5.4 585.0 5.1 587.0 4.8C589.0 4.5 591.0 4.3 593.0 4.0C595.0 3.7 597.0 3.4 599.0 3.2C600.3 3.0 601.7 2.8 603.0 2.8C603.3 2.8 603.7 3.1 604.0 3.5C604.3 3.9 604.7 7.0 605.0 7.0C605.7 7.0 606.3 5.8 607.0 5.5C608.0 5.0 609.0 4.7 610.0 4.5C613.3 3.9 616.7 3.8 620.0 3.5C623.3 3.2 626.7 2.8 630.0 2.5C632.7 2.3 635.3 1.8 638.0 1.8C638.7 1.8 639.3 1.9 640.0 2.0C640.3 2.1 640.7 4.7 641.0 6.0C641.3 7.3 641.7 10.0 642.0 10.0C643.0 10.0 644.0 8.1 645.0 7.5C646.7 6.6 648.3 6.0 650.0 5.5C652.0 4.9 654.0 4.5 656.0 4.0C658.0 3.5 660.0 2.2 662.0 2.2C662.8 2.2 663.7 2.4 664.5 3.0C664.9 3.2 665.2 6.6 665.6 8.0C666.1 9.8 666.5 12.5 667.0 12.5C668.2 12.5 669.4 10.8 670.6 10.0C671.9 9.1 673.2 7.3 674.5 7.3C675.3 7.3 676.2 7.4 677.0 7.5C677.5 7.6 678.0 9.3 678.5 9.3C679.0 9.3 679.5 8.2 680.0 8.0C680.8 7.6 681.6 7.6 682.4 7.3C684.6 6.6 686.8 5.6 689.0 5.0C691.7 4.3 694.3 3.8 697.0 3.3C699.2 2.9 701.3 2.0 703.5 2.0C704.3 2.0 705.2 2.6 706.0 3.0C706.9 3.4 707.9 4.3 708.8 4.6C709.9 4.9 710.9 4.9 712.0 5.3C712.5 5.5 712.9 6.9 713.4 6.9C714.1 6.9 714.7 5.8 715.4 5.5C717.2 4.8 718.9 4.6 720.7 4.2C723.3 3.7 726.0 3.1 728.6 2.9C730.4 2.8 732.1 2.6 733.9 2.6C734.8 2.6 735.6 3.2 736.5 3.2C738.3 3.2 740.0 2.7 741.8 2.4C743.5 2.1 745.3 1.6 747.0 1.6C748.3 1.6 749.7 1.8 751.0 2.0C751.9 2.2 752.8 3.0 753.7 4.0C754.3 4.7 755.0 6.3 755.6 8.0C756.3 9.8 756.9 12.6 757.6 16.0C758.1 18.7 758.7 22.7 759.2 27.0"/>
<path class="cv" stroke="#008000" d="M529.5 42.0C530.3 37.7 531.2 33.6 532.0 30.0C533.0 25.6 534.0 21.4 535.0 18.0C536.0 14.6 537.0 11.5 538.0 9.0C538.8 6.9 539.7 4.6 540.5 3.5C541.2 2.6 541.8 1.5 542.5 1.5C543.3 1.5 544.2 2.9 545.0 4.0C546.0 5.3 547.0 7.8 548.0 10.0C548.7 11.5 549.3 13.6 550.0 15.0C550.4 15.9 550.9 17.5 551.3 17.5C551.7 17.5 552.1 14.4 552.5 12.0C552.8 10.0 553.2 5.5 553.5 4.0C553.7 3.0 554.0 1.8 554.2 1.8C554.6 1.8 555.1 5.0 555.5 7.0C555.9 8.8 556.3 13.5 556.7 13.5C557.1 13.5 557.4 8.8 557.8 7.0C558.2 5.0 558.6 2.0 559.0 2.0C559.5 2.0 560.0 6.1 560.5 9.0C561.0 11.9 561.5 20.0 562.0 20.0C562.4 20.0 562.8 14.7 563.2 12.0C563.6 9.1 564.1 3.9 564.5 3.0C564.8 2.3 565.2 1.8 565.5 1.8C566.0 1.8 566.5 3.9 567.0 6.0C567.5 8.1 568.0 13.6 568.5 18.0C569.0 22.4 569.5 29.0 570.0 33.0C570.7 38.3 571.3 42.6 572.0 46.0C573.0 51.0 574.0 56.3 575.0 58.0C576.1 59.8 577.1 61.5 578.2 61.5C579.5 61.5 580.7 60.2 582.0 59.0C583.3 57.7 584.7 54.7 586.0 52.0C587.3 49.3 588.7 45.6 590.0 42.0C591.3 38.4 592.7 34.3 594.0 30.0C595.3 25.7 596.7 20.3 598.0 16.0C599.0 12.8 600.0 9.0 601.0 7.0C601.7 5.7 602.3 4.0 603.0 4.0C603.3 4.0 603.7 6.6 604.0 10.0C604.2 12.0 604.4 19.3 604.6 25.0C604.8 30.7 605.0 38.5 605.2 45.0C605.5 53.6 605.7 62.7 606.0 70.0C606.3 79.1 606.7 88.9 607.0 94.0C607.2 97.1 607.4 101.0 607.6 101.0C608.1 101.0 608.5 95.1 609.0 92.0C609.7 87.5 610.3 81.8 611.0 78.0C612.0 72.3 613.0 67.3 614.0 64.0C615.3 59.6 616.7 56.9 618.0 54.0C619.3 51.1 620.7 49.2 622.0 46.5C623.3 43.8 624.7 41.1 626.0 38.0C627.3 34.9 628.7 31.4 630.0 28.0C631.0 25.4 632.0 23.1 633.0 20.0C633.8 17.4 634.7 13.8 635.5 11.0C636.2 8.7 636.8 5.8 637.5 4.5C637.8 3.8 638.2 3.0 638.5 3.0C638.8 3.0 639.2 4.7 639.5 7.0C639.7 8.6 640.0 15.0 640.2 20.0C640.4 24.3 640.6 30.7 640.8 35.0C641.1 40.8 641.3 46.0 641.6 50.0C641.9 54.0 642.1 58.5 642.4 60.0C642.7 61.9 643.1 63.6 643.4 63.6C643.9 63.6 644.5 59.8 645.0 58.0C646.0 54.6 647.0 50.9 648.0 48.0C649.3 44.2 650.7 41.4 652.0 38.0C653.0 35.4 654.0 33.1 655.0 30.0C655.7 28.0 656.3 25.5 657.0 23.0C657.5 21.1 658.0 17.9 658.5 17.0C659.0 16.1 659.5 15.2 660.0 15.2C660.4 15.2 660.8 16.4 661.2 18.0C661.5 19.1 661.7 23.8 662.0 28.0C662.3 32.2 662.5 39.3 662.8 45.0C663.1 50.7 663.3 56.2 663.6 62.0C663.9 67.8 664.1 73.8 664.4 80.0C664.7 87.7 665.1 98.2 665.4 104.0C665.6 107.5 665.8 112.4 666.0 112.4C666.3 112.4 666.7 106.5 667.0 104.0C667.3 101.8 667.6 100.0 667.9 98.0C668.8 91.9 669.7 85.6 670.6 79.6C671.5 73.8 672.3 66.4 673.2 62.4C673.7 59.9 674.3 56.5 674.8 56.5C675.1 56.5 675.5 62.8 675.8 66.4C676.3 71.5 676.7 79.6 677.2 83.5C677.5 86.0 677.8 89.5 678.1 89.5C678.7 89.5 679.2 83.3 679.8 80.9C680.7 77.2 681.5 74.2 682.4 71.7C683.7 67.9 685.1 65.1 686.4 62.4C688.2 58.8 689.9 56.5 691.7 53.0C693.0 50.4 694.3 47.5 695.6 44.5C696.7 42.0 697.8 39.6 698.9 36.5C699.8 34.0 700.7 31.2 701.6 27.7C702.2 25.5 702.7 21.8 703.3 19.8C703.7 18.3 704.2 16.0 704.6 16.0C704.9 16.0 705.2 18.6 705.5 21.0C705.8 23.4 706.1 30.4 706.4 34.3C706.7 38.7 707.1 44.5 707.4 46.0C708.0 48.5 708.5 48.3 709.1 50.3C709.5 51.7 709.9 54.0 710.3 56.5C710.7 59.0 711.1 64.0 711.5 66.4C711.8 68.2 712.1 70.6 712.4 70.6C712.7 70.6 713.1 67.9 713.4 66.4C714.1 63.5 714.7 59.4 715.4 57.0C716.3 53.9 717.1 51.6 718.0 49.5C719.3 46.2 720.7 43.6 722.0 41.0C723.8 37.6 725.5 34.5 727.3 31.7C728.4 30.0 729.5 27.7 730.6 27.0C731.0 26.7 731.5 26.4 731.9 26.4C732.3 26.4 732.8 31.8 733.2 33.0C733.6 34.2 734.1 35.6 734.5 35.6C735.6 35.6 736.7 34.3 737.8 33.6C738.7 33.0 739.6 32.1 740.5 31.7C741.1 31.4 741.8 31.3 742.4 31.0C743.5 30.5 744.7 29.6 745.8 28.4C746.9 27.2 747.9 24.6 749.0 22.4C750.1 20.1 751.2 17.1 752.3 14.5C753.0 12.9 753.6 11.0 754.3 9.9C754.6 9.4 755.0 8.6 755.3 8.6C755.9 8.6 756.4 11.2 757.0 11.2C757.4 11.2 757.9 10.8 758.3 10.5C758.6 10.3 758.9 9.7 759.2 9.2"/>
<path class="cv" stroke="#ff0000" d="M529.5 96.0C530.3 87.1 531.2 78.5 532.0 70.0C532.7 63.2 533.3 55.7 534.0 50.0C534.7 44.3 535.3 39.5 536.0 35.0C536.8 29.4 537.7 24.8 538.5 20.0C539.2 16.2 539.8 12.1 540.5 9.0C541.0 6.7 541.5 3.8 542.0 3.0C542.5 2.2 543.0 1.5 543.5 1.5C545.5 1.5 547.5 1.5 549.5 1.5C550.0 1.5 550.5 3.8 551.0 6.0C551.5 8.2 552.0 13.6 552.5 18.0C553.0 22.4 553.5 28.2 554.0 33.0C554.5 37.8 555.0 42.9 555.5 47.0C556.0 51.1 556.5 55.4 557.0 58.0C557.5 60.8 558.1 64.4 558.6 64.4C559.1 64.4 559.5 60.6 560.0 58.0C560.5 55.2 561.0 50.8 561.5 47.0C562.0 43.2 562.5 39.2 563.0 35.0C563.5 30.8 564.0 26.2 564.5 22.0C565.0 17.8 565.5 12.9 566.0 10.0C566.5 7.1 567.0 3.7 567.5 3.0C568.0 2.3 568.5 1.8 569.0 1.8C569.7 1.8 570.3 2.7 571.0 4.0C571.5 4.9 572.0 8.7 572.5 12.0C573.0 15.3 573.5 20.4 574.0 25.0C574.5 29.6 575.0 34.5 575.5 40.0C576.0 45.5 576.5 53.2 577.0 58.0C577.7 64.5 578.3 70.4 579.0 74.0C579.7 77.6 580.3 80.8 581.0 82.0C581.7 83.2 582.3 84.4 583.0 84.4C583.7 84.4 584.3 83.1 585.0 82.0C585.7 80.9 586.3 78.9 587.0 77.0C587.7 75.1 588.3 72.5 589.0 70.0C589.7 67.5 590.3 65.0 591.0 62.0C592.0 57.5 593.0 51.9 594.0 46.0C595.0 40.1 596.0 32.3 597.0 26.0C598.0 19.7 599.0 11.7 600.0 8.0C600.7 5.5 601.3 2.6 602.0 2.4C602.5 2.3 603.0 2.2 603.5 2.2C604.0 2.2 604.5 2.6 605.0 3.0C605.5 3.4 606.0 4.6 606.5 6.0C607.0 7.4 607.5 10.3 608.0 13.0C608.7 16.6 609.3 21.5 610.0 26.0C610.7 30.5 611.3 35.7 612.0 40.0C613.3 48.7 614.7 55.7 616.0 64.0C617.3 72.3 618.7 81.3 620.0 90.0C621.3 98.7 622.7 107.7 624.0 116.0C625.0 122.2 626.0 128.9 627.0 134.0C627.7 137.4 628.3 141.4 629.0 143.0C629.5 144.3 630.1 145.6 630.6 145.6C631.2 145.6 631.8 141.8 632.4 138.0C632.8 135.4 633.2 129.4 633.6 124.0C633.9 119.5 634.3 114.1 634.6 108.0C635.1 99.5 635.5 89.3 636.0 78.0C636.4 68.3 636.8 53.0 637.2 45.0C637.4 40.3 637.7 33.6 637.9 33.6C638.1 33.6 638.4 39.3 638.6 42.0C638.9 45.5 639.2 48.7 639.5 52.0C639.8 55.3 640.1 58.3 640.4 62.0C640.9 68.5 641.5 78.8 642.0 84.0C642.7 90.5 643.3 96.6 644.0 99.0C644.5 100.7 644.9 102.4 645.4 102.4C645.9 102.4 646.5 99.9 647.0 98.0C648.0 94.4 649.0 86.9 650.0 80.0C651.0 73.1 652.0 65.3 653.0 56.0C653.5 51.4 654.0 45.2 654.5 40.0C654.8 36.6 655.2 32.9 655.5 30.0C655.9 26.2 656.4 22.2 656.8 20.0C657.1 18.3 657.5 16.0 657.8 16.0C658.2 16.0 658.6 18.0 659.0 20.0C659.3 21.7 659.7 26.8 660.0 30.0C660.4 34.2 660.9 36.9 661.3 42.0C661.9 48.6 662.4 61.1 663.0 70.0C663.7 80.5 664.3 89.9 665.0 100.0C665.7 111.2 666.5 122.2 667.2 134.0C667.8 143.6 668.4 158.6 669.0 164.0C669.5 168.8 670.1 174.0 670.6 174.0C671.1 174.0 671.5 167.8 672.0 162.0C672.4 157.0 672.8 146.7 673.2 136.0C673.5 127.1 673.9 111.0 674.2 102.0C674.5 93.0 674.9 86.2 675.2 79.6C675.5 73.7 675.8 66.2 676.1 63.7C676.3 61.8 676.6 59.8 676.8 59.8C677.1 59.8 677.5 68.6 677.8 73.0C678.2 78.7 678.7 84.2 679.1 90.0C679.5 95.8 680.0 103.1 680.4 108.0C681.3 117.8 682.1 125.3 683.0 132.0C684.0 139.8 685.0 145.9 686.0 152.0C687.3 160.1 688.7 167.3 690.0 174.0C691.0 179.0 692.0 183.9 693.0 188.0C693.7 190.7 694.3 195.4 695.0 195.4C695.7 195.4 696.3 190.3 697.0 186.0C697.7 181.7 698.3 173.5 699.0 166.0C699.7 158.5 700.3 150.9 701.0 140.0C701.5 131.8 702.0 118.8 702.5 108.0C702.8 100.8 703.2 90.8 703.5 86.0C703.9 80.7 704.2 76.3 704.6 74.3C704.8 73.4 704.9 72.3 705.1 72.3C705.4 72.3 705.6 76.6 705.9 79.6C706.2 83.0 706.5 88.3 706.8 92.8C707.1 97.8 707.5 103.2 707.8 108.0C708.5 118.6 709.3 130.9 710.0 138.0C711.0 147.7 712.0 153.4 713.0 160.0C714.0 166.6 715.0 172.5 716.0 178.0C717.0 183.5 718.0 188.8 719.0 193.0C719.5 195.3 720.1 199.0 720.6 199.0C721.4 199.0 722.2 193.8 723.0 190.0C724.0 185.2 725.0 176.7 726.0 170.0C727.0 163.3 728.0 157.3 729.0 150.0C729.7 145.1 730.3 137.5 731.0 134.0C731.5 131.6 731.9 128.4 732.4 128.4C732.9 128.4 733.5 133.5 734.0 136.0C734.5 138.5 735.1 142.7 735.6 143.5C735.9 144.0 736.3 144.4 736.6 144.4C737.3 144.4 737.9 140.2 738.6 138.5C739.5 136.3 740.3 132.8 741.2 132.8C741.8 132.8 742.4 133.4 743.0 133.4C743.5 133.4 744.1 131.1 744.6 129.5C745.5 126.6 746.5 121.6 747.4 117.0C748.4 111.9 749.5 106.6 750.5 99.7C751.3 94.3 752.1 89.1 752.9 80.0C753.3 75.8 753.6 67.1 754.0 62.0C754.3 57.4 754.7 53.4 755.0 50.0C755.3 46.9 755.6 42.0 755.9 42.0C756.3 42.0 756.6 45.5 757.0 48.0C757.4 50.9 757.9 55.8 758.3 59.8C758.6 62.6 758.9 65.5 759.2 68.4"/>
<path class="cv" stroke="#00bfbf" d="M529.5 3.0C530.0 2.6 530.5 2.5 531.0 2.5C532.0 2.5 533.0 4.4 534.0 6.0C534.8 7.3 535.7 10.1 536.5 12.0C537.2 13.5 537.8 16.5 538.5 16.5C538.9 16.5 539.4 13.9 539.8 12.0C540.2 10.3 540.6 6.6 541.0 5.0C541.3 3.7 541.7 2.0 542.0 2.0C542.7 2.0 543.3 3.6 544.0 5.0C544.8 6.8 545.7 11.5 546.5 15.0C547.3 18.5 548.2 22.9 549.0 26.0C549.8 29.1 550.7 31.8 551.5 34.0C552.3 36.2 553.2 38.5 554.0 39.5C554.7 40.3 555.3 41.2 556.0 41.2C556.8 41.2 557.7 40.3 558.5 39.5C559.5 38.6 560.5 36.6 561.5 35.0C562.7 33.1 563.8 31.2 565.0 29.0C566.3 26.5 567.7 23.5 569.0 21.0C570.3 18.5 571.7 16.2 573.0 14.0C574.3 11.8 575.7 9.6 577.0 8.0C578.0 6.8 579.0 5.7 580.0 5.0C581.0 4.3 582.0 3.5 583.0 3.5C583.7 3.5 584.3 4.4 585.0 6.0C585.3 6.8 585.7 11.2 586.0 15.0C586.3 18.8 586.7 24.8 587.0 30.0C587.3 35.2 587.7 40.9 588.0 46.0C588.2 49.1 588.4 55.0 588.6 55.0C588.8 55.0 589.1 49.2 589.3 46.0C589.5 42.8 589.8 39.3 590.0 36.0C590.3 31.3 590.7 26.1 591.0 22.0C591.3 17.9 591.7 13.2 592.0 11.0C592.5 7.6 593.0 4.8 593.5 4.0C594.3 2.7 595.2 1.8 596.0 1.8C600.7 1.8 605.3 1.8 610.0 2.0C611.7 2.1 613.3 3.1 615.0 4.0C616.7 4.9 618.3 6.5 620.0 8.0C621.7 9.5 623.3 11.2 625.0 13.0C626.7 14.8 628.3 17.0 630.0 19.0C630.8 20.0 631.7 21.4 632.5 22.0C633.0 22.4 633.5 22.8 634.0 22.8C634.4 22.8 634.8 21.3 635.2 20.0C635.6 18.6 636.1 14.6 636.5 13.0C636.8 11.7 637.2 10.0 637.5 10.0C638.0 10.0 638.5 11.8 639.0 13.0C639.5 14.2 640.0 17.2 640.5 18.0C641.2 19.1 641.8 20.0 642.5 20.0C643.2 20.0 643.8 19.0 644.5 18.0C645.2 17.0 645.8 14.2 646.5 12.0C647.2 9.8 647.8 6.7 648.5 5.0C649.0 3.7 649.5 1.8 650.0 1.8C650.5 1.8 651.0 3.5 651.5 5.0C652.0 6.5 652.5 10.2 653.0 13.0C653.5 15.8 654.0 19.3 654.5 22.0C654.9 24.4 655.4 28.5 655.8 28.5C656.2 28.5 656.6 25.2 657.0 23.0C657.5 20.2 658.0 15.3 658.5 12.0C658.9 9.1 659.4 5.3 659.8 4.0C660.2 2.8 660.6 1.5 661.0 1.5C661.7 1.5 662.3 1.8 663.0 2.2C663.5 2.6 664.1 6.5 664.6 10.0C665.3 14.3 665.9 24.1 666.6 30.0C667.3 35.9 667.9 41.6 668.6 46.0C669.2 49.7 669.7 55.5 670.3 55.5C670.8 55.5 671.4 50.6 671.9 46.0C672.3 42.3 672.8 33.1 673.2 26.4C673.5 21.3 673.9 13.6 674.2 10.6C674.7 6.4 675.1 2.0 675.6 2.0C676.1 2.0 676.7 5.1 677.2 6.6C677.8 8.4 678.5 12.0 679.1 12.0C679.8 12.0 680.4 9.2 681.1 8.0C682.0 6.5 682.8 4.8 683.7 4.0C685.0 2.8 686.4 1.6 687.7 1.6C689.0 1.6 690.4 2.0 691.7 2.6C692.6 3.0 693.4 4.8 694.3 6.6C695.2 8.4 696.0 11.7 696.9 14.5C697.8 17.4 698.7 21.4 699.6 23.7C700.1 25.0 700.7 27.0 701.2 27.0C701.5 27.0 701.9 22.8 702.2 20.0C702.6 16.9 702.9 10.5 703.3 8.0C703.7 5.0 704.2 1.6 704.6 1.6C706.0 1.6 707.4 1.8 708.8 2.0C710.1 2.2 711.5 3.1 712.8 4.0C714.1 4.9 715.4 6.4 716.7 8.0C718.0 9.7 719.4 11.8 720.7 14.5C722.0 17.1 723.3 21.0 724.6 25.0C725.5 27.7 726.4 30.8 727.3 34.3C728.2 37.7 729.0 42.6 729.9 46.0C730.5 48.2 731.0 52.0 731.6 52.0C732.0 52.0 732.4 44.9 732.8 39.6C733.2 34.8 733.5 23.8 733.9 19.8C734.2 16.2 734.6 12.8 734.9 11.9C735.2 11.0 735.6 10.3 735.9 10.3C736.5 10.3 737.2 12.0 737.8 13.2C738.7 14.9 739.6 17.4 740.5 19.8C741.4 22.1 742.2 25.1 743.1 27.7C744.0 30.4 744.9 32.7 745.8 35.6C746.7 38.4 747.5 41.8 748.4 44.9C749.3 48.0 750.1 50.9 751.0 54.0C751.7 56.4 752.3 61.4 753.0 61.4C753.4 61.4 753.9 56.9 754.3 52.8C754.6 49.6 755.0 40.9 755.3 37.0C755.6 33.1 756.0 28.9 756.3 27.7C756.6 26.6 756.9 25.7 757.2 25.7C757.6 25.7 757.9 27.4 758.3 28.4C758.6 29.2 758.9 30.1 759.2 31.0"/>
</g>
</g>
<g id="panel-d">
<rect class="ax" x="47.2" y="225.5" width="230.2" height="204.7"/>
<path class="tk" d="M80.09 430.2v-2.4M80.09 225.5v2.4M112.97 430.2v-2.4M112.97 225.5v2.4M145.86 430.2v-2.4M145.86 225.5v2.4M178.74 430.2v-2.4M178.74 225.5v2.4M211.63 430.2v-2.4M211.63 225.5v2.4M244.51 430.2v-2.4M244.51 225.5v2.4M47.2 245.97h2.4M277.4 245.97h-2.4M47.2 266.44h2.4M277.4 266.44h-2.4M47.2 286.91h2.4M277.4 286.91h-2.4M47.2 307.38h2.4M277.4 307.38h-2.4M47.2 327.85h2.4M277.4 327.85h-2.4M47.2 348.32h2.4M277.4 348.32h-2.4M47.2 368.79h2.4M277.4 368.79h-2.4M47.2 389.26h2.4M277.4 389.26h-2.4M47.2 409.73h2.4M277.4 409.73h-2.4"/>
<g clip-path="url(#cpd)">
<path class="cv" stroke="#0000ff" d="M47.4 302.0C47.9 310.1 48.5 317.0 49.0 320.0C49.5 322.7 49.9 325.4 50.4 325.4C51.1 325.4 51.7 320.3 52.4 318.0C53.6 313.8 54.8 309.4 56.0 306.0C57.3 302.2 58.7 298.9 60.0 296.0C61.0 293.8 62.0 292.3 63.0 290.0C64.7 286.2 66.3 280.1 68.0 276.0C70.0 271.1 72.0 267.0 74.0 263.0C76.0 259.0 78.0 255.3 80.0 252.0C82.0 248.7 84.0 246.0 86.0 243.0C87.3 241.0 88.7 237.0 90.0 237.0C90.7 237.0 91.3 242.0 92.0 242.0C92.7 242.0 93.3 240.1 94.0 239.0C95.3 236.8 96.7 233.1 98.0 231.0C99.0 229.4 100.0 227.7 101.0 227.0C101.7 226.5 102.3 226.0 103.0 226.0C103.5 226.0 103.9 228.8 104.4 232.0C104.8 234.7 105.2 244.5 105.6 250.0C106.1 256.5 106.5 264.9 107.0 268.0C107.5 271.1 107.9 274.4 108.4 274.4C108.9 274.4 109.5 270.1 110.0 268.0C110.7 265.3 111.3 262.2 112.0 260.0C113.0 256.8 114.0 254.0 115.0 252.0C116.7 248.6 118.3 246.1 120.0 244.0C122.0 241.5 124.0 239.8 126.0 238.0C128.0 236.2 130.0 234.3 132.0 233.0C134.7 231.3 137.3 229.9 140.0 229.0C142.7 228.1 145.3 227.0 148.0 227.0C148.5 227.0 149.1 228.4 149.6 230.0C150.1 231.4 150.5 238.0 151.0 240.0C151.5 242.0 151.9 244.4 152.4 244.4C152.9 244.4 153.5 239.8 154.0 238.5C155.0 236.1 156.0 234.2 157.0 233.5C158.7 232.4 160.3 231.8 162.0 231.6C164.7 231.2 167.3 231.0 170.0 231.0C174.0 231.0 178.0 231.0 182.0 231.0C185.3 231.0 188.7 231.0 192.0 231.0C193.3 231.0 194.7 230.4 196.0 230.4C196.7 230.4 197.3 232.6 198.0 233.0C199.3 233.8 200.7 234.2 202.0 234.4C204.7 234.8 207.3 235.0 210.0 235.0C212.0 235.0 214.0 234.6 216.0 234.4C217.3 234.3 218.7 234.0 220.0 234.0C221.0 234.0 222.0 236.4 223.0 236.4C224.7 236.4 226.3 235.9 228.0 235.6C230.0 235.2 232.0 234.2 234.0 234.0C235.7 233.8 237.3 233.6 239.0 233.6C240.7 233.6 242.3 234.3 244.0 235.0C245.3 235.6 246.7 236.7 248.0 238.0C249.3 239.3 250.7 241.2 252.0 244.0C253.0 246.1 254.0 249.6 255.0 254.0C255.7 256.9 256.3 260.8 257.0 266.0C257.7 271.2 258.3 279.6 259.0 288.0C259.5 294.3 260.0 302.9 260.5 310.0C260.9 315.2 261.2 319.6 261.6 325.0C262.1 331.9 262.5 343.1 263.0 348.0C263.2 350.1 263.4 353.0 263.6 353.0C263.9 353.0 264.1 345.6 264.4 340.0C264.7 333.0 265.1 320.0 265.4 310.0C265.7 300.0 266.1 288.1 266.4 280.0C266.9 267.0 267.5 253.8 268.0 248.0C268.7 240.8 269.3 236.0 270.0 233.5C270.8 230.5 271.6 228.1 272.4 227.5C273.3 226.8 274.1 226.5 275.0 226.3C275.9 226.1 276.7 226.0 277.6 226.0"/>
<path class="cv" stroke="#008000" d="M47.4 272.0C48.3 280.9 49.1 289.4 50.0 294.0C51.3 301.1 52.7 306.4 54.0 309.0C56.0 312.8 58.0 316.4 60.0 316.4C61.7 316.4 63.3 314.2 65.0 312.0C66.3 310.2 67.7 305.6 69.0 302.0C70.3 298.4 71.7 294.9 73.0 290.0C74.7 283.9 76.3 274.2 78.0 266.0C79.3 259.5 80.7 252.9 82.0 246.0C83.0 240.8 84.0 233.0 85.0 230.0C85.7 228.0 86.3 225.6 87.0 225.6C87.7 225.6 88.3 232.6 89.0 240.0C89.5 245.2 89.9 263.0 90.4 270.0C90.8 276.0 91.2 284.0 91.6 284.0C92.1 284.0 92.5 279.1 93.0 276.0C93.7 271.6 94.3 263.9 95.0 260.0C95.9 254.9 96.7 249.5 97.6 248.0C98.2 247.0 98.8 246.0 99.4 246.0C99.9 246.0 100.5 249.2 101.0 252.0C101.7 255.5 102.3 262.0 103.0 270.0C103.5 275.6 103.9 285.0 104.4 294.0C104.8 301.7 105.2 312.0 105.6 320.0C106.1 329.4 106.5 337.7 107.0 346.0C107.7 357.9 108.3 369.4 109.0 380.0C109.7 390.6 110.3 402.2 111.0 410.0C111.3 413.9 111.7 420.0 112.0 420.0C112.5 420.0 113.1 414.0 113.6 410.0C114.4 403.9 115.2 393.4 116.0 386.0C117.0 376.7 118.0 367.9 119.0 360.0C120.0 352.1 121.0 344.6 122.0 338.0C122.7 333.6 123.3 329.0 124.0 326.0C125.3 319.9 126.7 316.5 128.0 312.0C129.3 307.5 130.7 303.3 132.0 299.0C133.3 294.7 134.7 290.5 136.0 286.0C137.3 281.5 138.7 276.5 140.0 272.0C141.0 268.6 142.0 264.2 143.0 262.0C143.5 261.0 143.9 259.6 144.4 259.6C144.8 259.6 145.2 265.8 145.6 271.0C146.0 276.2 146.4 289.7 146.8 296.0C147.2 302.2 147.6 311.0 148.0 311.0C148.5 311.0 148.9 306.5 149.4 304.0C150.3 299.3 151.1 291.8 152.0 288.0C153.0 283.6 154.0 280.4 155.0 278.0C156.7 274.0 158.3 271.2 160.0 269.0C162.0 266.4 164.0 264.4 166.0 263.0C168.0 261.6 170.0 260.6 172.0 259.6C174.0 258.6 176.0 258.2 178.0 257.0C179.7 256.0 181.3 254.6 183.0 252.5C184.0 251.2 185.0 248.1 186.0 246.5C186.5 245.7 187.1 244.4 187.6 244.4C188.1 244.4 188.5 249.0 189.0 252.0C189.5 255.0 189.9 261.7 190.4 263.0C190.8 264.1 191.2 265.0 191.6 265.0C192.1 265.0 192.5 261.8 193.0 260.0C193.5 258.2 193.9 254.9 194.4 254.0C194.8 253.2 195.2 252.4 195.6 252.4C196.1 252.4 196.5 256.9 197.0 260.0C197.5 263.1 197.9 269.3 198.4 272.0C198.9 275.1 199.5 277.8 200.0 279.0C201.0 281.2 202.0 282.1 203.0 283.0C204.7 284.4 206.3 285.3 208.0 286.0C209.7 286.7 211.3 287.6 213.0 287.6C214.0 287.6 215.0 286.7 216.0 286.4C216.5 286.2 217.1 286.0 217.6 286.0C217.9 286.0 218.3 290.1 218.6 293.0C218.9 295.9 219.3 301.2 219.6 305.0C219.9 308.8 220.3 313.1 220.6 316.0C221.1 320.1 221.5 326.0 222.0 326.0C222.5 326.0 223.1 320.0 223.6 318.0C224.4 315.0 225.2 311.0 226.0 311.0C226.7 311.0 227.3 314.4 228.0 314.4C228.7 314.4 229.3 310.7 230.0 309.0C231.3 305.7 232.7 301.9 234.0 300.0C235.7 297.7 237.3 296.2 239.0 295.0C240.7 293.8 242.3 292.7 244.0 292.0C245.0 291.6 246.0 291.0 247.0 291.0C248.3 291.0 249.7 293.0 251.0 295.0C252.0 296.5 253.0 300.0 254.0 304.0C254.8 307.2 255.6 311.3 256.4 318.0C256.9 322.5 257.5 332.4 258.0 340.0C258.7 349.5 259.3 361.8 260.0 370.0C260.5 376.2 261.0 386.0 261.5 386.0C261.9 386.0 262.2 377.9 262.6 370.0C262.9 362.8 263.3 341.9 263.6 330.0C264.0 316.9 264.3 305.7 264.7 294.5C265.1 283.3 265.4 269.6 265.8 262.5C266.4 251.6 266.9 243.2 267.5 239.0C268.2 233.8 268.9 229.5 269.6 228.5C270.5 227.3 271.3 226.4 272.2 226.4C273.3 226.4 274.3 226.9 275.4 227.2C276.1 227.4 276.9 227.7 277.6 228.0"/>
<path class="cv" stroke="#ff0000" d="M47.4 256.0C47.9 266.9 48.5 277.3 49.0 285.0C50.0 299.5 51.0 310.5 52.0 320.0C53.0 329.5 54.0 335.0 55.0 344.0C55.7 350.0 56.3 357.0 57.0 364.0C57.7 371.0 58.3 381.2 59.0 386.0C59.5 389.3 59.9 393.6 60.4 393.6C60.9 393.6 61.5 388.2 62.0 384.0C62.7 378.7 63.3 367.5 64.0 360.0C64.5 354.4 65.0 349.5 65.5 344.0C66.0 338.5 66.5 332.7 67.0 327.0C67.7 319.4 68.3 312.5 69.0 304.0C69.5 298.0 69.9 291.3 70.4 284.0C70.9 275.6 71.5 262.9 72.0 256.0C72.7 247.4 73.3 240.3 74.0 236.0C74.7 231.7 75.3 227.0 76.0 226.5C76.5 226.1 77.0 225.8 77.5 225.8C78.0 225.8 78.5 226.1 79.0 226.5C79.7 227.1 80.3 233.8 81.0 240.0C81.7 246.2 82.3 262.0 83.0 270.0C83.7 278.0 84.3 285.1 85.0 290.0C85.5 293.4 85.9 298.4 86.4 298.4C86.9 298.4 87.5 293.3 88.0 290.0C89.0 283.8 90.0 273.3 91.0 266.0C92.0 258.7 93.0 251.0 94.0 246.0C95.0 241.0 96.0 236.4 97.0 234.0C98.0 231.6 99.0 229.0 100.0 229.0C101.0 229.0 102.0 229.4 103.0 230.0C104.0 230.6 105.0 234.7 106.0 238.0C107.3 242.4 108.7 249.4 110.0 256.0C111.3 262.6 112.7 269.1 114.0 278.0C115.3 286.9 116.7 301.4 118.0 312.0C119.3 322.6 120.7 333.1 122.0 342.0C123.7 353.2 125.3 362.5 127.0 372.0C128.3 379.6 129.7 387.3 131.0 394.0C132.0 399.0 133.0 405.2 134.0 408.0C134.8 410.3 135.6 413.0 136.4 413.0C137.3 413.0 138.1 409.9 139.0 406.0C139.7 403.0 140.3 391.9 141.0 384.0C141.5 378.4 141.9 369.5 142.4 366.0C142.8 363.0 143.2 359.6 143.6 359.6C143.9 359.6 144.3 373.6 144.6 380.0C145.1 388.9 145.5 398.7 146.0 405.0C146.5 412.1 147.1 418.8 147.6 422.0C147.9 423.6 148.1 425.6 148.4 425.6C148.9 425.6 149.5 419.0 150.0 416.0C151.0 410.3 152.0 404.6 153.0 400.0C154.3 393.9 155.7 388.8 157.0 384.0C158.7 378.0 160.3 372.9 162.0 368.0C164.0 362.2 166.0 357.7 168.0 352.0C169.7 347.3 171.3 342.4 173.0 337.0C174.3 332.7 175.7 328.5 177.0 323.0C178.0 318.8 179.0 314.0 180.0 308.0C180.8 303.2 181.6 299.2 182.4 290.0C182.8 285.4 183.2 270.3 183.6 266.0C184.3 258.8 184.9 252.0 185.6 252.0C186.1 252.0 186.5 262.8 187.0 270.0C187.4 276.2 187.8 286.5 188.2 293.0C188.6 299.5 189.0 304.2 189.4 310.0C189.8 315.8 190.2 324.4 190.6 328.0C191.1 332.2 191.5 337.0 192.0 337.0C192.5 337.0 193.1 331.8 193.6 331.0C193.9 330.5 194.3 330.0 194.6 330.0C195.1 330.0 195.5 336.1 196.0 340.0C196.7 345.5 197.3 354.5 198.0 360.0C198.7 365.5 199.3 371.7 200.0 374.0C201.0 377.4 202.0 379.4 203.0 380.4C204.0 381.4 205.0 382.4 206.0 382.4C207.0 382.4 208.0 381.7 209.0 381.0C210.0 380.3 211.0 378.3 212.0 375.5C212.7 373.6 213.3 369.2 214.0 365.0C214.7 360.8 215.3 353.2 216.0 349.0C216.5 346.1 216.9 341.6 217.4 341.6C217.8 341.6 218.2 350.9 218.6 356.0C219.2 363.7 219.8 374.8 220.4 381.0C221.3 390.0 222.1 396.7 223.0 402.0C223.7 406.1 224.3 409.9 225.0 412.0C225.3 413.0 225.7 414.4 226.0 414.4C226.5 414.4 227.1 408.0 227.6 404.0C228.1 400.5 228.5 394.0 229.0 392.0C230.0 387.7 231.0 385.8 232.0 384.0C233.3 381.5 234.7 379.7 236.0 378.5C237.0 377.6 238.0 376.4 239.0 376.4C239.5 376.4 240.1 378.2 240.6 380.0C241.1 381.6 241.5 387.3 242.0 390.0C242.5 392.7 242.9 397.0 243.4 397.0C243.7 397.0 244.1 391.5 244.4 388.0C244.8 383.8 245.2 376.3 245.6 373.0C246.4 366.4 247.2 361.9 248.0 359.0C249.3 354.2 250.7 352.4 252.0 349.0C253.3 345.6 254.7 343.7 256.0 338.5C256.7 335.9 257.3 331.6 258.0 326.0C258.5 321.5 259.1 313.6 259.6 306.0C259.9 301.3 260.3 297.0 260.6 290.0C260.9 283.7 261.2 270.4 261.5 262.5C261.9 252.8 262.2 241.6 262.6 237.0C263.0 232.4 263.3 228.1 263.7 227.4C264.1 226.6 264.6 226.0 265.0 226.0C266.0 226.0 267.0 226.0 268.0 226.0C271.2 226.0 274.4 226.4 277.6 227.0"/>
<path class="cv" stroke="#00bfbf" d="M47.4 237.0C48.9 233.6 50.5 230.3 52.0 229.0C54.0 227.3 56.0 225.6 58.0 225.6C60.0 225.6 62.0 228.9 64.0 232.0C65.7 234.6 67.3 241.4 69.0 246.0C69.9 248.4 70.7 253.0 71.6 253.0C72.3 253.0 72.9 244.5 73.6 240.0C74.3 235.5 74.9 225.8 75.6 225.8C76.4 225.8 77.2 228.4 78.0 232.0C78.7 235.0 79.3 251.4 80.0 260.0C80.7 268.6 81.3 277.0 82.0 284.0C82.5 289.2 83.0 293.0 83.5 298.0C84.0 303.0 84.5 308.2 85.0 314.0C85.7 321.8 86.3 331.7 87.0 340.0C87.7 348.3 88.3 358.9 89.0 364.0C89.5 367.5 89.9 372.0 90.4 372.0C90.8 372.0 91.2 367.8 91.6 364.0C92.1 359.6 92.5 347.7 93.0 340.0C93.7 328.9 94.3 320.6 95.0 308.0C95.7 295.4 96.3 270.2 97.0 262.0C98.0 249.7 99.0 243.4 100.0 238.0C100.8 233.7 101.6 229.7 102.4 228.0C102.9 226.9 103.5 225.6 104.0 225.6C105.3 225.6 106.7 227.9 108.0 230.0C109.3 232.1 110.7 237.2 112.0 242.0C113.3 246.8 114.7 253.7 116.0 260.0C117.3 266.3 118.7 274.1 120.0 280.0C121.0 284.4 122.0 286.8 123.0 292.0C124.0 297.2 125.0 305.1 126.0 314.0C126.7 319.9 127.3 329.0 128.0 336.0C128.7 343.0 129.3 347.6 130.0 356.0C130.7 364.4 131.3 379.5 132.0 390.0C132.7 400.5 133.3 419.6 134.0 419.6C134.5 419.6 134.9 408.4 135.4 400.0C135.8 392.8 136.2 379.2 136.6 370.0C137.1 359.2 137.5 350.3 138.0 340.0C138.5 329.0 139.0 313.8 139.5 306.0C140.0 298.2 140.5 294.2 141.0 288.0C141.7 279.7 142.3 269.7 143.0 262.0C143.7 254.3 144.3 245.5 145.0 241.0C145.7 236.5 146.3 232.0 147.0 231.0C147.3 230.5 147.7 230.0 148.0 230.0C148.7 230.0 149.3 233.8 150.0 236.0C151.3 240.5 152.7 246.7 154.0 252.0C155.3 257.3 156.7 263.0 158.0 268.0C160.0 275.5 162.0 281.7 164.0 289.0C165.7 295.1 167.3 301.5 169.0 308.0C170.0 311.9 171.0 317.4 172.0 320.0C172.7 321.7 173.3 324.0 174.0 324.0C174.7 324.0 175.3 321.3 176.0 318.0C176.4 316.0 176.8 309.4 177.2 304.0C177.5 299.5 177.9 293.9 178.2 288.0C178.7 279.8 179.1 268.2 179.6 260.0C180.1 251.8 180.5 241.9 181.0 238.0C181.5 234.1 181.9 230.0 182.4 230.0C182.9 230.0 183.5 233.4 184.0 236.0C184.7 239.2 185.3 245.4 186.0 250.0C186.8 255.5 187.6 262.0 188.4 266.0C189.1 269.7 189.9 275.0 190.6 275.0C191.1 275.0 191.5 269.6 192.0 266.0C192.5 261.8 193.1 253.7 193.6 250.0C194.1 246.3 194.7 241.6 195.2 241.6C195.8 241.6 196.4 243.6 197.0 245.0C198.0 247.3 199.0 251.4 200.0 254.0C201.3 257.5 202.7 260.5 204.0 263.0C205.7 266.1 207.3 268.4 209.0 271.0C210.3 273.1 211.7 275.8 213.0 277.0C213.5 277.4 213.9 278.0 214.4 278.0C214.9 278.0 215.5 274.8 216.0 274.0C216.5 273.3 216.9 272.4 217.4 272.4C218.3 272.4 219.1 275.4 220.0 277.0C221.0 278.9 222.0 281.2 223.0 283.0C224.1 285.0 225.3 288.4 226.4 288.4C226.9 288.4 227.5 281.7 228.0 280.0C228.7 277.9 229.3 275.6 230.0 275.6C230.7 275.6 231.3 276.9 232.0 278.0C233.0 279.7 234.0 284.4 235.0 288.0C235.9 291.1 236.7 293.5 237.6 298.0C238.1 300.4 238.5 304.3 239.0 308.0C239.7 313.3 240.3 326.0 241.0 326.0C241.3 326.0 241.7 314.6 242.0 308.0C242.3 301.4 242.7 293.4 243.0 286.0C243.3 280.1 243.5 271.6 243.8 268.0C244.2 262.6 244.6 258.3 245.0 257.0C246.0 253.9 247.0 253.8 248.0 252.0C249.3 249.6 250.7 246.9 252.0 244.0C253.0 241.8 254.0 239.8 255.0 237.0C255.8 234.8 256.5 231.3 257.3 229.0C257.7 227.8 258.1 225.8 258.5 225.8C259.0 225.8 259.5 229.8 260.0 234.0C260.5 237.9 260.9 249.9 261.4 258.0C261.9 267.2 262.5 281.2 263.0 286.0C263.3 289.0 263.7 292.4 264.0 292.4C264.5 292.4 265.1 285.0 265.6 280.0C266.3 273.8 266.9 262.4 267.6 256.0C268.4 248.3 269.2 240.8 270.0 237.0C270.8 233.2 271.6 230.3 272.4 229.0C273.3 227.6 274.1 226.3 275.0 226.3C275.9 226.3 276.7 226.3 277.6 226.5"/>
</g>
</g>
<g id="panel-e">
<rect class="ax" x="288.5" y="225.5" width="230.05" height="204.7"/>
<path class="tk" d="M321.36 430.2v-2.4M321.36 225.5v2.4M354.23 430.2v-2.4M354.23 225.5v2.4M387.09 430.2v-2.4M387.09 225.5v2.4M419.96 430.2v-2.4M419.96 225.5v2.4M452.82 430.2v-2.4M452.82 225.5v2.4M485.69 430.2v-2.4M485.69 225.5v2.4M288.5 245.97h2.4M518.55 245.97h-2.4M288.5 266.44h2.4M518.55 266.44h-2.4M288.5 286.91h2.4M518.55 286.91h-2.4M288.5 307.38h2.4M518.55 307.38h-2.4M288.5 327.85h2.4M518.55 327.85h-2.4M288.5 348.32h2.4M518.55 348.32h-2.4M288.5 368.79h2.4M518.55 368.79h-2.4M288.5 389.26h2.4M518.55 389.26h-2.4M288.5 409.73h2.4M518.55 409.73h-2.4"/>
<g clip-path="url(#cpe)">
<path class="cv" stroke="#0000ff" d="M288.5 226.5C289.2 228.5 289.8 230.1 290.5 231.0C291.0 231.7 291.5 232.5 292.0 232.5C292.5 232.5 293.0 229.9 293.5 229.0C294.2 227.8 294.8 226.2 295.5 226.2C296.2 226.2 296.8 227.0 297.5 228.0C298.2 229.0 298.8 234.7 299.5 238.0C300.2 241.3 300.8 246.0 301.5 248.0C302.0 249.5 302.5 251.2 303.0 251.2C303.5 251.2 304.0 249.5 304.5 248.0C305.2 246.0 305.8 241.2 306.5 238.0C307.2 234.8 307.8 230.6 308.5 229.0C309.0 227.8 309.5 226.7 310.0 226.5C310.7 226.2 311.3 226.0 312.0 226.0C312.8 226.0 313.7 226.3 314.5 227.0C315.0 227.4 315.5 231.1 316.0 234.0C316.5 236.9 317.0 242.2 317.5 245.0C318.2 248.8 318.8 252.3 319.5 254.0C319.9 255.1 320.4 256.5 320.8 256.5C321.4 256.5 321.9 255.1 322.5 254.0C323.2 252.7 323.8 250.1 324.5 248.0C325.3 245.4 326.2 242.4 327.0 240.0C328.0 237.1 329.0 234.0 330.0 232.0C330.8 230.3 331.7 228.8 332.5 228.0C333.3 227.2 334.2 226.2 335.0 226.2C336.3 226.2 337.7 226.2 339.0 226.2C339.6 226.2 340.2 226.9 340.8 228.0C341.2 228.7 341.6 233.2 342.0 237.0C342.4 240.8 342.8 247.0 343.2 252.0C343.6 257.4 344.1 263.6 344.5 268.0C345.0 273.1 345.5 281.0 346.0 281.0C346.7 281.0 347.3 275.2 348.0 272.0C348.7 268.8 349.3 264.7 350.0 262.0C351.0 257.9 352.0 254.6 353.0 252.0C354.0 249.4 355.0 247.2 356.0 245.5C357.3 243.2 358.7 241.4 360.0 240.0C362.0 237.9 364.0 236.3 366.0 235.0C368.0 233.7 370.0 232.7 372.0 231.6C374.0 230.5 376.0 228.6 378.0 228.6C379.0 228.6 380.0 228.7 381.0 229.0C381.5 229.2 382.1 233.8 382.6 236.0C383.1 237.9 383.5 241.6 384.0 241.6C384.7 241.6 385.3 239.0 386.0 238.0C387.3 236.0 388.7 233.9 390.0 233.0C392.0 231.7 394.0 230.8 396.0 230.4C399.3 229.7 402.7 229.4 406.0 229.0C410.0 228.6 414.0 228.4 418.0 228.0C419.3 227.9 420.7 227.6 422.0 227.6C422.5 227.6 423.0 228.5 423.5 229.0C424.0 229.5 424.5 230.4 425.0 230.4C426.7 230.4 428.3 229.9 430.0 229.6C432.7 229.2 435.3 228.8 438.0 228.4C440.7 228.0 443.3 227.6 446.0 227.2C447.7 226.9 449.3 226.4 451.0 226.4C452.0 226.4 453.0 227.6 454.0 227.6C455.3 227.6 456.7 226.5 458.0 226.4C462.7 226.1 467.3 226.0 472.0 226.0C478.7 226.0 485.3 226.0 492.0 226.0C494.0 226.0 496.0 226.4 498.0 227.0C499.3 227.4 500.7 228.4 502.0 230.0C503.0 231.2 504.0 234.4 505.0 238.0C506.0 241.6 507.0 247.8 508.0 254.0C509.0 260.2 510.0 268.3 511.0 276.0C511.7 281.1 512.3 287.9 513.0 292.0C513.7 296.1 514.3 301.0 515.0 302.0C515.3 302.5 515.7 303.0 516.0 303.0C516.5 303.0 517.1 300.3 517.6 298.0C518.2 295.5 518.8 291.1 519.4 286.0"/>
<path class="cv" stroke="#008000" d="M288.5 226.5C289.0 226.6 289.5 228.3 290.0 230.0C290.5 231.7 291.0 236.1 291.5 240.0C292.0 243.9 292.5 249.2 293.0 254.0C293.5 258.8 294.0 262.9 294.5 269.0C295.1 276.8 295.8 289.7 296.4 300.0C297.3 314.1 298.1 324.6 299.0 342.0C299.5 352.1 300.0 365.9 300.5 380.0C300.8 388.5 301.1 402.3 301.4 408.0C301.6 411.8 301.8 416.4 302.0 416.4C302.3 416.4 302.5 411.9 302.8 408.0C303.2 402.1 303.6 386.8 304.0 376.0C304.5 361.6 305.1 346.9 305.6 332.0C306.0 320.8 306.4 310.8 306.8 298.0C307.1 289.4 307.3 274.2 307.6 269.0C307.9 263.1 308.2 261.2 308.5 257.0C308.8 252.3 309.2 246.2 309.5 242.0C309.8 237.8 310.2 233.1 310.5 231.0C310.8 228.9 311.2 226.5 311.5 226.5C312.0 226.5 312.5 226.7 313.0 227.0C313.5 227.3 314.0 229.1 314.5 230.0C315.0 230.9 315.5 232.5 316.0 232.5C317.0 232.5 318.0 231.9 319.0 231.5C320.3 231.0 321.7 230.6 323.0 230.0C324.0 229.5 325.0 228.7 326.0 228.0C326.7 227.5 327.3 226.5 328.0 226.5C328.7 226.5 329.3 227.1 330.0 228.0C330.5 228.7 331.0 231.4 331.5 234.0C332.0 236.6 332.5 241.2 333.0 245.0C333.5 248.8 334.0 253.0 334.5 257.0C335.0 261.0 335.5 264.1 336.0 269.0C336.8 276.8 337.6 290.2 338.4 300.0C339.3 310.6 340.1 321.0 341.0 330.0C342.0 340.3 343.0 349.4 344.0 358.0C345.3 369.5 346.7 379.8 348.0 390.0C349.0 397.6 350.0 406.5 351.0 412.0C351.5 414.6 351.9 418.4 352.4 418.4C352.9 418.4 353.5 414.5 354.0 412.0C355.0 407.3 356.0 399.2 357.0 394.0C358.3 387.1 359.7 381.5 361.0 376.0C362.7 369.1 364.3 363.1 366.0 357.0C367.3 352.1 368.7 347.5 370.0 343.0C371.3 338.5 372.7 333.8 374.0 330.0C376.0 324.3 378.0 319.2 380.0 315.0C382.0 310.8 384.0 307.8 386.0 304.0C388.0 300.2 390.0 296.0 392.0 292.0C394.0 288.0 396.0 283.6 398.0 280.0C400.0 276.4 402.0 274.1 404.0 270.0C405.3 267.3 406.7 263.8 408.0 260.0C409.0 257.1 410.0 252.9 411.0 250.0C411.5 248.7 411.9 246.4 412.4 246.4C412.8 246.4 413.2 251.3 413.6 253.0C414.0 254.7 414.4 257.0 414.8 257.0C415.3 257.0 415.9 251.2 416.4 248.0C416.9 244.8 417.5 240.1 418.0 238.0C418.5 235.9 419.1 233.3 419.6 233.3C420.1 233.3 420.5 235.6 421.0 238.0C421.5 240.4 421.9 248.7 422.4 254.0C422.9 260.0 423.5 267.8 424.0 272.0C424.7 277.3 425.3 281.6 426.0 284.0C426.7 286.4 427.3 288.2 428.0 289.0C428.5 289.7 429.1 290.4 429.6 290.4C430.7 290.4 431.9 289.0 433.0 288.0C434.3 286.8 435.7 284.9 437.0 283.0C438.3 281.1 439.7 278.6 441.0 276.0C442.3 273.4 443.7 269.5 445.0 267.0C445.7 265.7 446.3 263.6 447.0 263.6C447.3 263.6 447.7 267.9 448.0 272.0C448.3 276.1 448.7 287.0 449.0 294.0C449.3 301.0 449.7 309.9 450.0 314.0C450.3 318.1 450.7 323.0 451.0 323.0C451.3 323.0 451.7 318.7 452.0 316.0C452.5 311.7 453.1 303.6 453.6 300.0C454.4 294.5 455.2 291.2 456.0 288.0C457.0 284.0 458.0 279.9 459.0 278.0C460.0 276.1 461.0 274.4 462.0 274.0C462.5 273.8 462.9 273.6 463.4 273.6C463.8 273.6 464.2 276.4 464.6 276.4C465.1 276.4 465.5 273.4 466.0 272.0C467.0 269.1 468.0 265.9 469.0 264.0C470.3 261.4 471.7 259.4 473.0 258.0C474.7 256.2 476.3 254.9 478.0 254.0C479.3 253.3 480.7 252.6 482.0 252.4C483.7 252.2 485.3 252.2 487.0 252.0C488.0 251.9 489.0 251.4 490.0 251.4C491.3 251.4 492.7 251.9 494.0 252.4C495.0 252.8 496.0 253.5 497.0 254.4C497.7 255.0 498.3 255.7 499.0 257.0C499.7 258.3 500.3 261.8 501.0 266.0C501.5 269.0 501.9 274.3 502.4 280.0C502.9 286.6 503.5 300.2 504.0 306.0C504.7 313.2 505.3 316.7 506.0 322.0C507.0 330.0 508.0 335.2 509.0 346.0C509.9 355.3 510.7 374.8 511.6 388.0C512.1 395.1 512.5 408.4 513.0 408.4C513.5 408.4 513.9 401.3 514.4 396.0C514.9 389.9 515.5 378.3 516.0 370.0C516.5 361.7 517.1 355.3 517.6 346.0C517.9 341.4 518.1 336.4 518.4 330.0C518.7 323.6 518.9 315.3 519.2 306.0"/>
<path class="cv" stroke="#ff0000" d="M288.5 226.2C289.7 226.6 290.8 227.0 292.0 227.5C293.0 227.9 294.0 228.5 295.0 229.0C296.2 229.6 297.3 230.8 298.5 230.8C299.7 230.8 300.8 229.7 302.0 229.0C303.2 228.3 304.3 226.8 305.5 226.5C306.5 226.2 307.5 226.0 308.5 226.0C309.2 226.0 309.8 227.5 310.5 229.0C311.0 230.1 311.5 233.7 312.0 235.0C312.5 236.3 313.0 238.0 313.5 238.0C314.0 238.0 314.5 236.3 315.0 235.0C315.5 233.7 316.0 230.3 316.5 229.0C317.0 227.7 317.5 226.2 318.0 226.2C318.5 226.2 319.0 227.0 319.5 228.0C320.0 229.0 320.5 232.3 321.0 235.0C321.5 237.7 322.0 242.3 322.5 245.0C323.0 247.7 323.5 250.5 324.0 252.0C324.3 252.8 324.5 253.8 324.8 253.8C325.1 253.8 325.5 251.8 325.8 250.0C326.2 247.8 326.6 240.9 327.0 237.0C327.3 233.7 327.7 229.0 328.0 228.0C328.4 226.9 328.8 226.0 329.2 226.0C330.0 226.0 330.7 226.1 331.5 226.2C332.0 226.3 332.5 227.7 333.0 229.0C333.7 230.7 334.3 234.2 335.0 237.0C335.7 239.8 336.3 243.0 337.0 246.0C337.7 249.0 338.3 252.2 339.0 255.0C339.7 257.8 340.3 260.3 341.0 263.0C341.7 265.7 342.3 267.8 343.0 271.0C344.5 278.3 346.1 290.7 347.6 300.0C348.7 306.9 349.9 312.6 351.0 320.0C352.0 326.5 353.0 334.7 354.0 342.0C355.0 349.3 356.0 356.7 357.0 364.0C358.0 371.3 359.0 378.8 360.0 386.0C360.7 390.8 361.3 396.2 362.0 400.0C362.3 401.9 362.7 405.0 363.0 405.0C363.5 405.0 363.9 400.2 364.4 396.0C364.9 391.2 365.5 381.7 366.0 372.0C366.3 366.0 366.7 357.9 367.0 350.0C367.3 342.1 367.7 331.7 368.0 324.0C368.5 313.2 368.9 306.4 369.4 295.0C369.8 285.3 370.2 268.2 370.6 260.0C371.1 250.4 371.5 241.9 372.0 238.0C372.5 233.5 373.1 230.2 373.6 229.0C374.3 227.6 374.9 226.4 375.6 226.4C376.4 226.4 377.2 227.1 378.0 228.0C378.7 228.8 379.3 232.3 380.0 236.0C380.7 239.7 381.3 248.1 382.0 254.0C383.0 262.8 384.0 273.2 385.0 280.0C386.2 288.2 387.4 292.7 388.6 300.0C389.4 304.9 390.2 310.9 391.0 316.0C392.0 322.3 393.0 328.3 394.0 334.0C394.7 337.8 395.3 342.9 396.0 345.0C396.5 346.7 397.1 348.6 397.6 348.6C398.3 348.6 398.9 346.4 399.6 344.0C400.2 341.8 400.8 335.5 401.4 330.0C401.9 325.1 402.5 318.4 403.0 312.0C403.5 306.4 403.9 300.7 404.4 294.0C404.9 286.4 405.5 275.4 406.0 268.0C406.7 258.7 407.3 249.6 408.0 244.0C408.7 238.4 409.3 233.2 410.0 231.0C410.7 228.8 411.3 226.6 412.0 226.6C413.0 226.6 414.0 227.0 415.0 227.6C415.9 228.1 416.7 229.2 417.6 231.5C418.1 232.7 418.5 236.6 419.0 241.0C419.5 245.4 419.9 254.5 420.4 262.0C420.9 270.6 421.5 281.9 422.0 290.0C422.8 302.2 423.6 313.7 424.4 322.0C425.6 334.5 426.8 343.6 428.0 352.0C429.3 361.3 430.7 369.2 432.0 376.0C433.7 384.5 435.3 389.6 437.0 398.0C437.9 402.4 438.7 409.0 439.6 413.0C439.9 414.5 440.3 417.0 440.6 417.0C440.9 417.0 441.3 412.4 441.6 408.0C441.9 403.6 442.3 391.7 442.6 384.0C442.9 376.3 443.3 366.7 443.6 362.0C443.9 358.3 444.1 353.6 444.4 353.6C444.7 353.6 445.1 362.5 445.4 366.0C445.8 370.2 446.2 377.0 446.6 377.0C447.4 377.0 448.2 375.8 449.0 375.0C450.3 373.7 451.7 371.6 453.0 370.0C454.3 368.4 455.7 366.2 457.0 365.6C457.7 365.3 458.3 365.0 459.0 365.0C459.5 365.0 460.1 367.7 460.6 370.0C461.1 372.0 461.5 377.0 462.0 380.0C462.5 383.0 462.9 388.4 463.4 388.4C463.8 388.4 464.2 383.5 464.6 380.0C465.1 376.0 465.5 367.9 466.0 364.0C466.7 358.4 467.3 353.3 468.0 351.0C468.7 348.7 469.3 346.4 470.0 346.4C470.7 346.4 471.3 348.0 472.0 350.0C472.5 351.6 473.1 357.8 473.6 362.0C474.1 365.7 474.5 372.1 475.0 373.6C475.3 374.6 475.7 374.4 476.0 375.6C476.3 376.6 476.5 384.4 476.8 390.0C477.1 395.6 477.3 404.6 477.6 410.0C477.9 415.4 478.1 423.6 478.4 423.6C478.7 423.6 478.9 414.3 479.2 410.0C479.6 403.6 480.0 395.2 480.4 392.0C480.7 389.3 481.1 386.4 481.4 386.4C481.8 386.4 482.2 391.5 482.6 394.0C483.1 396.9 483.5 402.4 484.0 402.4C484.5 402.4 484.9 395.7 485.4 392.0C485.9 387.7 486.5 380.9 487.0 378.0C487.5 375.1 488.1 371.6 488.6 371.6C489.1 371.6 489.5 371.8 490.0 372.0C490.5 372.3 491.1 376.6 491.6 380.0C492.2 383.8 492.8 391.1 493.4 396.0C493.9 400.3 494.5 408.0 495.0 408.0C495.3 408.0 495.7 403.3 496.0 398.0C496.3 392.7 496.7 372.0 497.0 360.0C497.3 348.0 497.7 332.5 498.0 326.0C498.3 319.5 498.7 312.4 499.0 312.4C499.3 312.4 499.7 317.3 500.0 320.0C500.5 324.3 501.1 332.2 501.6 334.0C502.1 335.6 502.5 337.0 503.0 337.0C503.7 337.0 504.3 334.4 505.0 332.0C505.7 329.6 506.3 324.3 507.0 320.0C507.7 315.7 508.3 310.7 509.0 306.0C509.5 302.7 509.9 300.1 510.4 296.0C510.9 291.4 511.5 283.4 512.0 278.0C512.8 269.9 513.6 262.8 514.4 256.0C515.1 250.3 515.7 244.7 516.4 240.0C516.9 236.3 517.5 231.7 518.0 230.0C518.5 228.5 518.9 227.1 519.4 227.0"/>
<path class="cv" stroke="#00bfbf" d="M288.5 226.0C292.3 226.0 296.2 226.0 300.0 226.0C302.5 226.0 305.0 226.0 307.5 226.2C307.8 226.2 308.0 228.2 308.3 229.0C308.5 229.6 308.7 230.5 308.9 230.5C309.1 230.5 309.4 228.4 309.6 228.0C310.1 227.2 310.5 226.5 311.0 226.5C312.7 226.5 314.3 226.5 316.0 226.6C317.3 226.6 318.7 226.8 320.0 227.0C321.3 227.2 322.7 228.5 324.0 228.8C325.3 229.1 326.7 229.5 328.0 229.5C329.3 229.5 330.7 229.3 332.0 229.2C333.3 229.1 334.7 229.0 336.0 228.8C337.3 228.6 338.7 227.9 340.0 227.5C341.3 227.1 342.7 226.2 344.0 226.2C348.0 226.1 352.0 226.0 356.0 226.0C357.3 226.0 358.7 226.1 360.0 226.2C361.3 226.3 362.7 228.6 364.0 230.0C365.3 231.4 366.7 233.6 368.0 235.0C369.3 236.4 370.7 238.6 372.0 238.6C373.0 238.6 374.0 237.2 375.0 236.0C376.0 234.8 377.0 231.3 378.0 230.0C379.0 228.7 380.0 227.4 381.0 227.0C382.7 226.4 384.3 226.0 386.0 226.0C390.7 226.0 395.3 226.0 400.0 226.0C400.7 226.0 401.3 229.5 402.0 232.0C402.5 234.0 403.1 238.2 403.6 240.0C404.0 241.3 404.4 243.0 404.8 243.0C405.2 243.0 405.6 240.7 406.0 239.0C406.5 236.8 407.1 231.9 407.6 230.0C408.1 228.3 408.5 226.2 409.0 226.2C415.3 226.2 421.7 226.2 428.0 226.4C429.3 226.4 430.7 228.3 432.0 230.0C433.3 231.7 434.7 234.4 436.0 238.0C437.0 240.7 438.0 245.5 439.0 250.0C439.7 253.0 440.3 257.9 441.0 260.0C441.3 261.0 441.7 262.4 442.0 262.4C442.3 262.4 442.7 257.2 443.0 254.0C443.5 249.5 443.9 241.8 444.4 238.0C444.9 233.7 445.5 228.9 446.0 228.0C446.5 227.1 447.1 226.4 447.6 226.4C449.1 226.4 450.5 229.5 452.0 232.0C453.3 234.3 454.7 238.4 456.0 242.0C457.3 245.6 458.7 249.8 460.0 254.0C461.0 257.2 462.0 260.1 463.0 264.0C463.9 267.4 464.7 270.6 465.6 276.0C466.3 280.1 466.9 287.0 467.6 294.0C467.9 297.5 468.3 301.5 468.6 306.0C468.9 309.6 469.1 313.6 469.4 318.0C469.6 321.3 469.8 329.0 470.0 329.0C470.3 329.0 470.5 321.0 470.8 316.0C471.1 311.0 471.3 304.3 471.6 298.0C471.9 291.7 472.1 285.0 472.4 278.0C472.7 271.0 472.9 260.9 473.2 256.0C473.6 248.6 474.0 243.0 474.4 240.0C474.8 237.0 475.2 233.6 475.6 233.6C476.4 233.6 477.2 236.4 478.0 238.0C479.0 240.0 480.0 244.0 481.0 245.0C481.5 245.5 481.9 246.0 482.4 246.0C482.9 246.0 483.5 244.4 484.0 244.4C484.7 244.4 485.3 246.6 486.0 248.0C487.0 250.1 488.0 253.0 489.0 256.0C489.8 258.4 490.6 262.3 491.4 264.0C491.7 264.7 492.1 265.6 492.4 265.6C492.8 265.6 493.2 262.6 493.6 260.0C494.1 256.9 494.5 248.6 495.0 244.0C495.5 239.4 495.9 233.7 496.4 232.0C497.1 229.6 497.7 228.0 498.4 227.6C499.6 226.9 500.8 226.5 502.0 226.4C504.0 226.2 506.0 226.0 508.0 226.0C509.0 226.0 510.0 228.0 511.0 230.0C511.9 231.7 512.7 235.4 513.6 240.0C514.3 243.5 514.9 248.6 515.6 256.0C516.1 261.2 516.5 271.8 517.0 280.0C517.3 285.9 517.7 294.2 518.0 298.0C518.4 302.6 518.8 306.8 519.2 308.0"/>
</g>
</g>
<g id="panel-f">
<rect class="ax" x="529.7" y="225.5" width="229.8" height="204.7"/>
<path class="tk" d="M562.53 430.2v-2.4M562.53 225.5v2.4M595.36 430.2v-2.4M595.36 225.5v2.4M628.19 430.2v-2.4M628.19 225.5v2.4M661.01 430.2v-2.4M661.01 225.5v2.4M693.84 430.2v-2.4M693.84 225.5v2.4M726.67 430.2v-2.4M726.67 225.5v2.4M529.7 245.97h2.4M759.5 245.97h-2.4M529.7 266.44h2.4M759.5 266.44h-2.4M529.7 286.91h2.4M759.5 286.91h-2.4M529.7 307.38h2.4M759.5 307.38h-2.4M529.7 327.85h2.4M759.5 327.85h-2.4M529.7 348.32h2.4M759.5 348.32h-2.4M529.7 368.79h2.4M759.5 368.79h-2.4M529.7 389.26h2.4M759.5 389.26h-2.4M529.7 409.73h2.4M759.5 409.73h-2.4"/>
<g clip-path="url(#cpf)">
<path class="cv" stroke="#0000ff" d="M529.5 241.0C530.2 238.8 530.8 236.8 531.5 235.0C532.3 232.8 533.2 230.4 534.0 229.0C534.7 227.9 535.3 226.6 536.0 226.5C537.0 226.3 538.0 226.2 539.0 226.2C539.7 226.2 540.3 227.0 541.0 228.0C541.7 229.0 542.3 232.5 543.0 235.0C543.7 237.5 544.3 241.0 545.0 243.0C545.7 245.0 546.3 247.2 547.0 247.8C547.4 248.2 547.8 248.5 548.2 248.5C548.7 248.5 549.3 247.8 549.8 247.0C550.4 246.2 550.9 243.1 551.5 241.0C552.2 238.5 552.8 235.4 553.5 233.0C554.0 231.2 554.5 228.8 555.0 228.0C555.5 227.2 556.0 226.5 556.5 226.5C557.0 226.5 557.5 227.0 558.0 227.5C558.5 228.0 559.0 230.2 559.5 231.0C559.9 231.7 560.4 232.5 560.8 232.5C561.4 232.5 561.9 231.2 562.5 230.5C563.2 229.6 563.8 228.0 564.5 227.5C565.2 227.0 565.8 226.5 566.5 226.5C567.5 226.5 568.5 227.1 569.5 227.5C570.2 227.8 570.8 228.5 571.5 228.5C572.2 228.5 572.8 227.4 573.5 227.0C574.3 226.6 575.2 226.0 576.0 226.0C576.5 226.0 577.0 226.7 577.5 227.5C578.0 228.3 578.5 231.4 579.0 234.0C579.5 236.6 580.0 241.0 580.5 244.0C581.0 247.0 581.5 250.4 582.0 252.0C582.5 253.6 583.0 255.5 583.5 255.5C584.0 255.5 584.5 254.7 585.0 254.0C585.7 253.1 586.3 251.3 587.0 250.0C588.0 248.0 589.0 245.8 590.0 244.0C591.3 241.6 592.7 239.4 594.0 237.5C595.3 235.6 596.7 233.8 598.0 232.5C599.7 230.9 601.3 229.7 603.0 228.8C604.7 227.9 606.3 226.9 608.0 226.8C609.3 226.7 610.7 226.6 612.0 226.6C612.5 226.6 613.1 228.8 613.6 231.0C614.1 233.0 614.5 239.4 615.0 243.0C615.5 246.6 615.9 252.2 616.4 253.0C616.7 253.4 616.9 253.8 617.2 253.8C617.8 253.8 618.4 249.8 619.0 248.0C620.0 245.1 621.0 241.9 622.0 240.0C623.3 237.4 624.7 235.4 626.0 234.0C627.7 232.2 629.3 230.8 631.0 230.0C633.3 228.9 635.7 228.1 638.0 227.6C640.7 227.0 643.3 226.5 646.0 226.4C651.3 226.2 656.7 226.0 662.0 226.0C668.7 226.0 675.3 226.0 682.0 226.0C682.8 226.0 683.6 227.6 684.4 227.6C685.3 227.6 686.1 226.0 687.0 226.0C700.7 226.0 714.3 226.0 728.0 226.0C734.0 226.0 740.0 226.1 746.0 226.5C747.0 226.6 747.9 229.5 748.9 232.0C749.8 234.2 750.6 237.6 751.5 242.0C752.1 244.9 752.6 249.7 753.2 254.0C753.8 258.3 754.3 264.0 754.9 267.7C755.3 270.3 755.7 273.4 756.1 274.5C756.3 275.1 756.6 275.8 756.8 275.8C757.1 275.8 757.5 273.0 757.8 271.0C758.1 269.0 758.5 265.1 758.8 262.5C759.0 260.9 759.2 259.4 759.4 258.0"/>
<path class="cv" stroke="#008000" d="M529.5 232.0C529.8 229.7 530.2 227.6 530.5 227.0C530.8 226.4 531.2 226.0 531.5 226.0C532.0 226.0 532.5 228.0 533.0 230.0C533.5 232.0 534.0 237.6 534.5 242.0C535.0 246.4 535.5 252.2 536.0 257.0C536.5 261.8 537.0 266.9 537.5 271.0C537.9 274.0 538.2 279.0 538.6 279.0C539.0 279.0 539.4 273.8 539.8 271.0C540.2 268.2 540.6 265.3 541.0 262.0C541.3 259.3 541.7 255.8 542.0 253.0C542.5 248.7 543.0 244.4 543.5 241.0C544.0 237.6 544.5 234.0 545.0 232.0C545.5 230.0 546.0 228.2 546.5 227.5C547.0 226.8 547.5 226.2 548.0 226.2C550.3 226.2 552.7 226.2 555.0 226.2C557.0 226.2 559.0 228.0 561.0 228.0C561.7 228.0 562.3 227.7 563.0 227.5C564.3 227.2 565.7 226.5 567.0 226.5C568.0 226.5 569.0 227.6 570.0 229.0C570.7 229.9 571.3 232.5 572.0 235.0C572.7 237.5 573.3 241.4 574.0 245.0C574.7 248.6 575.3 252.4 576.0 257.0C576.5 260.5 577.0 263.9 577.5 269.0C578.0 274.1 578.5 283.5 579.0 290.0C579.7 298.6 580.3 306.7 581.0 314.0C582.0 325.0 583.0 334.0 584.0 344.0C584.7 350.7 585.3 357.5 586.0 364.0C587.0 373.7 588.0 383.4 589.0 392.0C590.0 400.6 591.0 410.6 592.0 416.0C592.5 418.5 592.9 422.0 593.4 422.0C593.9 422.0 594.5 415.8 595.0 412.0C596.0 404.9 597.0 394.7 598.0 386.0C599.0 377.3 600.0 370.5 601.0 360.0C601.7 353.0 602.3 342.9 603.0 334.0C603.5 326.9 604.1 317.1 604.6 312.0C604.9 308.8 605.3 304.4 605.6 304.4C605.9 304.4 606.1 314.5 606.4 320.0C606.8 328.2 607.2 340.9 607.6 346.0C608.1 351.9 608.5 358.4 609.0 358.4C609.7 358.4 610.3 353.1 611.0 350.0C612.0 345.3 613.0 338.6 614.0 334.0C615.3 327.9 616.7 321.8 618.0 318.0C619.7 313.2 621.3 310.6 623.0 307.0C624.7 303.4 626.3 300.4 628.0 296.5C629.7 292.6 631.3 287.9 633.0 283.0C634.3 279.1 635.7 274.5 637.0 270.0C638.3 265.5 639.7 261.0 641.0 256.0C642.0 252.3 643.0 247.7 644.0 244.0C644.7 241.5 645.3 237.8 646.0 237.0C646.3 236.6 646.7 236.2 647.0 236.2C647.3 236.2 647.7 240.9 648.0 244.0C648.5 249.0 649.1 258.9 649.6 264.0C650.1 268.5 650.5 273.2 651.0 275.0C651.5 277.0 652.1 279.0 652.6 279.0C653.4 279.0 654.2 278.0 655.0 277.0C656.0 275.7 657.0 271.2 658.0 267.0C659.0 262.8 660.0 255.6 661.0 250.0C661.7 246.3 662.3 240.4 663.0 239.0C663.3 238.3 663.7 237.6 664.0 237.6C664.3 237.6 664.7 241.2 665.0 244.0C665.5 247.9 665.9 257.9 666.4 262.0C666.9 266.6 667.5 271.3 668.0 272.4C668.5 273.5 669.1 274.4 669.6 274.4C670.4 274.4 671.2 273.4 672.0 272.4C673.0 271.1 674.0 267.7 675.0 264.0C675.9 260.8 676.7 254.2 677.6 250.0C678.3 246.7 678.9 242.0 679.6 241.0C679.9 240.5 680.3 240.0 680.6 240.0C680.9 240.0 681.3 244.1 681.6 248.0C681.9 251.9 682.3 263.0 682.6 270.0C682.9 277.0 683.3 284.6 683.6 290.0C684.0 296.4 684.4 301.4 684.8 306.0C685.2 310.6 685.6 318.0 686.0 318.0C686.5 318.0 686.9 312.4 687.4 310.0C688.1 306.3 688.9 303.5 689.6 300.0C690.4 296.2 691.2 291.2 692.0 288.0C693.0 284.0 694.0 280.7 695.0 278.0C696.3 274.4 697.7 271.4 699.0 269.0C700.3 266.6 701.7 264.9 703.0 263.0C704.0 261.6 705.0 259.8 706.0 259.0C707.0 258.2 708.0 257.4 709.0 257.4C709.5 257.4 709.9 260.8 710.4 263.0C710.9 265.5 711.5 270.9 712.0 272.4C712.3 273.4 712.7 274.4 713.0 274.4C713.5 274.4 713.9 270.8 714.4 269.0C715.3 265.7 716.1 261.3 717.0 259.0C718.0 256.3 719.0 254.2 720.0 253.0C721.3 251.4 722.7 250.3 724.0 249.6C725.7 248.7 727.3 248.2 729.0 247.6C730.5 247.0 732.1 245.9 733.6 245.9C734.5 245.9 735.3 246.7 736.2 248.0C736.8 248.8 737.3 254.5 737.9 257.4C738.7 261.7 739.6 266.0 740.4 269.4C741.5 274.0 742.7 276.8 743.8 281.3C744.7 284.7 745.5 287.9 746.4 293.0C746.9 296.2 747.5 300.9 748.0 306.0C748.7 312.4 749.3 321.4 750.0 330.0C750.7 338.6 751.3 350.3 752.0 358.0C752.5 364.2 753.1 370.5 753.6 374.0C753.9 376.2 754.3 379.0 754.6 379.0C754.9 379.0 755.3 374.4 755.6 370.0C755.9 365.6 756.3 354.3 756.6 346.0C756.9 337.7 757.3 328.5 757.6 320.0C757.9 313.2 758.1 308.4 758.4 300.0C758.6 293.7 758.8 284.4 759.0 275.0C759.1 268.8 759.3 261.6 759.4 254.0"/>
<path class="cv" stroke="#ff0000" d="M529.5 251.0C530.0 247.7 530.5 244.6 531.0 242.0C531.7 238.5 532.3 235.3 533.0 233.0C533.7 230.7 534.3 228.3 535.0 227.5C535.7 226.7 536.3 226.0 537.0 226.0C537.7 226.0 538.3 226.7 539.0 227.5C539.7 228.3 540.3 231.6 541.0 233.0C541.5 234.0 542.0 235.5 542.5 235.5C543.0 235.5 543.5 234.0 544.0 233.0C544.7 231.7 545.3 228.9 546.0 228.0C546.7 227.1 547.3 226.2 548.0 226.2C549.0 226.2 550.0 227.0 551.0 227.0C552.0 227.0 553.0 226.2 554.0 226.2C555.0 226.2 556.0 226.5 557.0 227.0C557.7 227.3 558.3 229.9 559.0 232.0C559.7 234.1 560.3 238.0 561.0 240.0C561.4 241.2 561.8 243.0 562.2 243.0C562.6 243.0 563.1 241.4 563.5 240.0C564.0 238.4 564.5 234.1 565.0 232.0C565.5 229.9 566.0 227.4 566.5 227.0C567.2 226.5 567.8 226.2 568.5 226.2C569.7 226.2 570.8 226.2 572.0 226.2C572.7 226.2 573.3 226.8 574.0 227.5C574.7 228.2 575.3 230.7 576.0 233.0C576.7 235.3 577.3 238.7 578.0 242.0C578.7 245.3 579.3 249.3 580.0 253.0C580.7 256.7 581.3 259.6 582.0 264.0C583.0 270.6 584.0 280.7 585.0 290.0C586.0 299.3 587.0 310.0 588.0 320.0C589.0 330.0 590.0 340.4 591.0 350.0C591.9 358.3 592.7 368.0 593.6 374.0C594.1 377.2 594.5 382.0 595.0 382.0C595.5 382.0 595.9 375.4 596.4 370.0C596.9 363.8 597.5 350.0 598.0 340.0C598.5 330.0 599.1 319.8 599.6 310.0C600.1 301.5 600.5 294.8 601.0 285.0C601.4 276.6 601.8 263.5 602.2 255.0C602.5 249.3 602.7 242.3 603.0 240.0C603.7 234.3 604.3 231.3 605.0 230.0C606.0 228.0 607.0 226.4 608.0 226.4C609.0 226.4 610.0 227.1 611.0 228.0C612.0 228.9 613.0 231.6 614.0 235.0C615.0 238.4 616.0 246.2 617.0 254.0C618.0 261.8 619.0 275.1 620.0 284.0C621.0 292.9 622.0 301.1 623.0 308.0C624.0 314.9 625.0 322.1 626.0 326.0C626.8 329.1 627.6 333.0 628.4 333.0C629.1 333.0 629.9 329.5 630.6 326.0C631.2 323.1 631.8 316.7 632.4 310.0C632.9 304.0 633.5 293.4 634.0 286.0C634.7 276.7 635.3 267.9 636.0 260.0C636.7 252.1 637.3 242.4 638.0 238.0C638.7 233.6 639.3 230.0 640.0 228.6C640.5 227.6 640.9 226.6 641.4 226.6C642.1 226.6 642.9 228.2 643.6 230.0C644.4 231.9 645.2 239.0 646.0 244.0C647.0 250.2 648.0 257.7 649.0 264.0C650.0 270.3 651.0 277.9 652.0 282.0C652.8 285.3 653.6 288.8 654.4 289.6C654.8 290.0 655.2 290.4 655.6 290.4C656.3 290.4 656.9 285.8 657.6 282.0C658.3 278.2 658.9 269.8 659.6 264.0C660.3 258.2 660.9 250.5 661.6 247.0C661.9 245.3 662.3 243.0 662.6 243.0C663.1 243.0 663.5 249.5 664.0 254.0C664.7 260.4 665.3 272.5 666.0 280.0C666.5 286.0 667.1 293.4 667.6 296.0C668.0 298.0 668.4 300.0 668.8 300.0C669.3 300.0 669.9 294.7 670.4 290.0C670.9 285.3 671.5 273.3 672.0 266.0C672.5 258.7 673.1 250.1 673.6 246.0C674.1 242.4 674.5 238.0 675.0 238.0C675.5 238.0 675.9 242.0 676.4 246.0C676.9 250.6 677.5 265.9 678.0 276.0C678.7 288.6 679.3 304.7 680.0 314.0C680.7 323.3 681.3 330.4 682.0 336.0C683.0 344.4 684.0 351.0 685.0 356.0C686.0 361.0 687.0 365.3 688.0 368.0C689.0 370.7 690.0 372.9 691.0 374.0C692.0 375.1 693.0 376.4 694.0 376.4C695.0 376.4 696.0 375.1 697.0 374.0C698.0 372.9 699.0 370.3 700.0 369.0C700.8 368.0 701.6 366.4 702.4 366.4C702.9 366.4 703.5 367.7 704.0 369.0C704.5 370.1 704.9 374.3 705.4 375.0C705.9 375.8 706.5 375.5 707.0 376.4C707.3 377.0 707.7 381.0 708.0 384.0C708.4 387.7 708.8 395.8 709.2 398.0C709.5 399.5 709.7 401.0 710.0 401.0C710.3 401.0 710.5 397.4 710.8 394.0C711.1 390.6 711.3 381.7 711.6 376.0C711.9 368.9 712.3 362.3 712.6 356.0C712.9 349.7 713.3 341.9 713.6 338.0C714.1 332.5 714.5 329.0 715.0 326.0C715.7 321.7 716.3 318.2 717.0 316.0C717.9 313.1 718.7 310.7 719.6 309.6C720.4 308.6 721.2 307.6 722.0 307.6C722.7 307.6 723.3 308.9 724.0 310.0C724.7 311.1 725.3 315.6 726.0 315.6C726.7 315.6 727.3 314.4 728.0 314.4C728.5 314.4 728.9 317.3 729.4 320.0C729.9 323.1 730.5 330.5 731.0 338.0C731.3 342.7 731.7 349.7 732.0 356.0C732.4 363.6 732.8 371.7 733.2 380.0C733.6 388.3 734.0 398.9 734.4 406.0C734.8 413.1 735.2 420.2 735.6 424.0C735.7 425.3 735.9 427.0 736.0 427.0C736.2 427.0 736.4 422.9 736.6 420.0C736.9 415.2 737.3 405.9 737.6 400.0C737.9 394.1 738.3 386.6 738.6 384.0C739.1 380.3 739.5 378.0 740.0 377.0C740.5 376.0 740.9 375.0 741.4 375.0C742.1 375.0 742.9 377.3 743.6 378.0C744.3 378.7 744.9 379.6 745.6 379.6C746.2 379.6 746.8 377.5 747.4 375.0C747.9 372.8 748.5 365.4 749.0 359.0C749.5 353.4 749.9 346.3 750.4 338.0C750.8 330.9 751.2 320.7 751.6 312.0C751.9 304.7 752.3 296.4 752.6 290.0C752.8 286.2 753.0 283.4 753.2 279.6C753.5 274.5 753.7 267.9 754.0 262.5C754.3 256.5 754.6 249.8 754.9 245.5C755.3 239.8 755.7 234.4 756.1 232.0C756.5 229.4 757.0 227.2 757.4 226.8C758.0 226.3 758.5 226.0 759.1 226.0"/>
<path class="cv" stroke="#00bfbf" d="M529.5 274.0C530.3 278.1 531.2 280.0 532.0 280.0C532.8 280.0 533.6 276.7 534.4 274.0C534.8 272.8 535.1 271.1 535.5 269.0C536.0 266.1 536.5 260.9 537.0 257.0C537.7 251.8 538.3 246.0 539.0 242.0C539.7 238.0 540.3 234.1 541.0 232.0C541.7 229.9 542.3 228.1 543.0 227.5C543.8 226.7 544.7 226.0 545.5 226.0C546.2 226.0 546.8 227.5 547.5 229.0C548.2 230.5 548.8 234.0 549.5 237.0C550.2 240.0 550.8 244.6 551.5 247.0C552.0 248.8 552.5 251.2 553.0 251.2C553.5 251.2 554.0 249.0 554.5 247.0C555.0 245.0 555.5 239.7 556.0 237.0C556.5 234.3 557.0 231.4 557.5 230.0C558.0 228.6 558.5 227.3 559.0 227.0C559.8 226.5 560.7 226.2 561.5 226.2C562.7 226.2 563.8 226.3 565.0 226.5C566.0 226.6 567.0 227.2 568.0 228.0C568.8 228.6 569.7 230.1 570.5 232.0C571.2 233.5 571.8 236.1 572.5 239.0C573.2 241.9 573.8 245.6 574.5 250.0C575.0 253.3 575.5 257.8 576.0 262.0C576.3 264.2 576.5 265.5 576.8 269.0C577.1 272.5 577.3 284.9 577.6 290.0C578.1 298.9 578.5 303.3 579.0 310.0C579.5 316.7 579.9 330.0 580.4 330.0C580.7 330.0 581.1 320.4 581.4 314.0C581.7 307.6 582.1 296.3 582.4 290.0C582.9 280.0 583.5 274.7 584.0 266.0C584.3 261.7 584.5 256.6 584.8 252.0C585.1 246.2 585.5 238.5 585.8 235.0C586.1 231.5 586.5 228.2 586.8 227.5C587.2 226.6 587.6 226.0 588.0 226.0C588.5 226.0 589.0 227.8 589.5 229.0C590.2 230.6 590.8 233.1 591.5 235.0C592.3 237.4 593.2 239.9 594.0 242.0C595.0 244.6 596.0 247.0 597.0 249.0C597.8 250.7 598.7 252.5 599.5 253.5C600.3 254.4 601.0 255.6 601.8 255.6C603.2 255.6 604.6 252.4 606.0 250.0C607.3 247.7 608.7 243.0 610.0 240.0C611.3 237.0 612.7 233.9 614.0 232.0C615.3 230.1 616.7 228.4 618.0 227.6C619.3 226.8 620.7 226.0 622.0 226.0C623.3 226.0 624.7 226.2 626.0 226.5C626.7 226.7 627.3 228.0 628.0 230.0C628.5 231.6 629.1 238.7 629.6 244.0C630.1 248.6 630.5 255.0 631.0 260.0C631.5 265.0 631.9 271.6 632.4 274.0C632.7 275.7 633.1 277.5 633.4 277.5C633.9 277.5 634.5 273.6 635.0 271.0C635.7 267.7 636.3 261.7 637.0 258.0C638.0 252.5 639.0 247.1 640.0 244.0C641.3 239.9 642.7 237.4 644.0 235.0C645.3 232.6 646.7 230.0 648.0 229.0C649.7 227.7 651.3 226.4 653.0 226.4C654.0 226.4 655.0 226.6 656.0 227.0C656.7 227.2 657.3 228.9 658.0 229.6C658.5 230.1 658.9 231.0 659.4 231.0C659.9 231.0 660.5 229.0 661.0 228.4C661.9 227.4 662.7 226.0 663.6 226.0C664.4 226.0 665.2 227.1 666.0 228.0C667.0 229.2 668.0 231.6 669.0 234.0C669.7 235.6 670.3 238.4 671.0 239.6C671.5 240.5 671.9 241.6 672.4 241.6C672.9 241.6 673.5 238.1 674.0 236.0C674.5 233.9 675.1 230.2 675.6 229.0C676.3 227.5 676.9 226.0 677.6 226.0C679.1 226.0 680.5 226.7 682.0 227.6C683.3 228.4 684.7 231.4 686.0 234.0C687.3 236.6 688.7 240.1 690.0 244.0C691.3 247.9 692.7 252.3 694.0 258.0C695.0 262.3 696.0 267.9 697.0 274.0C697.7 278.1 698.3 283.2 699.0 288.0C699.5 291.9 700.1 297.4 700.6 300.0C700.9 301.3 701.1 303.0 701.4 303.0C701.7 303.0 702.1 298.9 702.4 296.0C702.9 291.3 703.5 282.1 704.0 276.0C704.5 270.6 704.9 263.2 705.4 261.0C705.6 260.0 705.8 259.0 706.0 259.0C706.5 259.0 706.9 268.0 707.4 268.0C707.7 268.0 707.9 260.0 708.2 256.0C708.5 252.0 708.7 247.0 709.0 244.0C709.5 238.8 709.9 233.8 710.4 232.0C710.8 230.5 711.2 229.0 711.6 229.0C712.4 229.0 713.2 229.5 714.0 230.0C715.0 230.6 716.0 231.8 717.0 233.0C718.0 234.2 719.0 236.3 720.0 238.0C720.8 239.4 721.6 241.2 722.4 242.4C722.9 243.2 723.5 244.4 724.0 244.4C724.5 244.4 725.1 242.6 725.6 241.0C726.1 239.6 726.5 236.0 727.0 234.0C727.5 231.7 728.1 228.8 728.6 228.0C729.4 226.9 730.2 226.0 731.0 226.0C736.7 226.0 742.3 226.1 748.0 226.5C748.9 226.6 749.7 228.2 750.6 230.0C751.2 231.2 751.7 233.9 752.3 237.0C752.9 240.1 753.4 245.6 754.0 250.6C754.5 254.7 754.9 260.0 755.4 264.0C755.7 266.6 756.0 269.1 756.3 271.0C756.6 272.9 756.9 275.5 757.2 276.0C757.5 276.6 757.9 277.0 758.2 277.0C758.6 277.0 759.0 275.8 759.4 274.0"/>
</g>
</g>
<text transform="translate(42.6 13.0) scale(1.07 1)" font-size="17.5" text-anchor="end">1</text>
<text transform="translate(44.7 50.2) scale(1.07 1)" font-size="17.5" text-anchor="end">0.8</text>
<text transform="translate(44.7 89.6) scale(1.07 1)" font-size="17.5" text-anchor="end">0.6</text>
<text transform="translate(44.7 132.2) scale(1.07 1)" font-size="17.5" text-anchor="end">0.4</text>
<text transform="translate(44.7 173.7) scale(1.07 1)" font-size="17.5" text-anchor="end">0.2</text>
<text transform="translate(43.2 213.5) scale(1.07 1)" font-size="17.5" text-anchor="end">0</text>
<text transform="translate(42.6 236.0) scale(1.07 1)" font-size="17.5" text-anchor="end">1</text>
<text transform="translate(44.7 275.2) scale(1.07 1)" font-size="17.5" text-anchor="end">0.8</text>
<text transform="translate(44.7 314.3) scale(1.07 1)" font-size="17.5" text-anchor="end">0.6</text>
<text transform="translate(44.7 357.2) scale(1.07 1)" font-size="17.5" text-anchor="end">0.4</text>
<text transform="translate(44.7 398.5) scale(1.07 1)" font-size="17.5" text-anchor="end">0.2</text>
<text transform="translate(44.5 438.0) scale(1.07 1)" font-size="17.5" text-anchor="end">0</text>
<text transform="translate(48.2 447.7) scale(1.07 1)" font-size="17.5" text-anchor="middle">6</text>
<text transform="translate(114.2 447.7) scale(1.07 1)" font-size="17.5" text-anchor="middle">7</text>
<text transform="translate(178.6 447.7) scale(1.07 1)" font-size="17.5" text-anchor="middle">8</text>
<text transform="translate(244.3 447.7) scale(1.07 1)" font-size="17.5" text-anchor="middle">9</text>
<text transform="translate(291.5 447.7) scale(1.07 1)" font-size="17.5" text-anchor="middle">6</text>
<text transform="translate(357.0 447.7) scale(1.07 1)" font-size="17.5" text-anchor="middle">7</text>
<text transform="translate(421.8 447.7) scale(1.07 1)" font-size="17.5" text-anchor="middle">8</text>
<text transform="translate(487.5 447.7) scale(1.07 1)" font-size="17.5" text-anchor="middle">9</text>
<text transform="translate(531.5 447.7) scale(1.07 1)" font-size="17.5" text-anchor="middle">6</text>
<text transform="translate(597.2 447.7) scale(1.07 1)" font-size="17.5" text-anchor="middle">7</text>
<text transform="translate(661.6 447.7) scale(1.07 1)" font-size="17.5" text-anchor="middle">8</text>
<text transform="translate(727.5 447.7) scale(1.07 1)" font-size="17.5" text-anchor="middle">9</text>
<text transform="translate(97.6 463.6) scale(1.025 1)" font-size="17.3" text-anchor="start">Frequency (GHz)</text>
<text transform="translate(342.0 465.6) scale(1.025 1)" font-size="17.3" text-anchor="start">Frequency (GHz)</text>
<text transform="translate(581.2 465.6) scale(1.025 1)" font-size="17.3" text-anchor="start">Frequency (GHz)</text>
<text transform="translate(13.8 127.4) rotate(-90) scale(1.13 1)" font-size="17" text-anchor="start">DoLP</text>
<text transform="translate(12.4 351.6) rotate(-90) scale(1.13 1)" font-size="17" text-anchor="start">DoLP</text>
<text transform="translate(64.0 187.0) scale(1.1 1)" font-size="17.5" text-anchor="start">(a)</text>
<text transform="translate(304.9 187.2) scale(1.1 1)" font-size="17.5" text-anchor="start">(b)</text>
<text transform="translate(549.0 187.2) scale(1.1 1)" font-size="17.5" text-anchor="start">(c)</text>
<text transform="translate(64.0 414.9) scale(1.1 1)" font-size="17.5" text-anchor="start">(d)</text>
<text transform="translate(305.2 414.9) scale(1.1 1)" font-size="17.5" text-anchor="start">(e)</text>
<text transform="translate(548.6 414.9) scale(1.1 1)" font-size="17.5" text-anchor="start">(f)</text>
<rect x="91.5" y="124.4" width="78.9" height="71" fill="#fff" stroke="#000" stroke-width="1"/>
<line x1="99.4" y1="135.6" x2="133" y2="135.6" stroke="#0000ff" stroke-width="1.1"/>
<text transform="translate(138.8 141.2) scale(1.1 1)" font-size="16.3" text-anchor="start">10</text>
<text transform="translate(159.8 135.8) scale(1.0 1)" font-size="12" text-anchor="start">°</text>
<line x1="99.4" y1="151.6" x2="133" y2="151.6" stroke="#008000" stroke-width="1.1"/>
<text transform="translate(138.8 157.2) scale(1.1 1)" font-size="16.3" text-anchor="start">20</text>
<text transform="translate(159.8 151.8) scale(1.0 1)" font-size="12" text-anchor="start">°</text>
<line x1="99.4" y1="167.4" x2="133" y2="167.4" stroke="#ff0000" stroke-width="1.1"/>
<text transform="translate(138.8 173.0) scale(1.1 1)" font-size="16.3" text-anchor="start">30</text>
<text transform="translate(159.8 167.6) scale(1.0 1)" font-size="12" text-anchor="start">°</text>
<line x1="99.4" y1="183.2" x2="133" y2="183.2" stroke="#00bfbf" stroke-width="1.1"/>
<text transform="translate(138.8 188.8) scale(1.1 1)" font-size="16.3" text-anchor="start">40</text>
<text transform="translate(159.8 183.4) scale(1.0 1)" font-size="12" text-anchor="start">°</text>
</svg>
</body></html>
